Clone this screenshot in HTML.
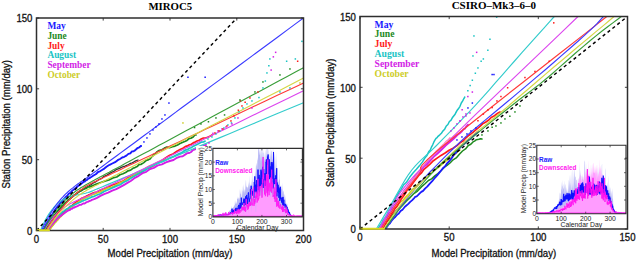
<!DOCTYPE html><html><head><meta charset="utf-8"><style>html,body{margin:0;padding:0;background:#fff;width:637px;height:261px;overflow:hidden}svg{display:block}</style></head><body>
<svg width="637" height="261" viewBox="0 0 637 261">
<rect width="637" height="261" fill="#fff"/>
<clipPath id="cL"><rect x="36.5" y="18" width="267.0" height="212.5"/></clipPath>
<g clip-path="url(#cL)">
<path d="M48.5 230.5 L49.6 229 L50.7 227.5 L51.8 226.1 L52.9 224.7 L53.9 223.3 L55 222 L56.1 220.9 L57.2 219.4 L58.3 218.2 L59.4 217 L60.5 215.6 L61.5 214.7 L62.6 213.6 L63.7 212.7 L64.8 211.2 L65.9 210.3 L67 209.2 L68.1 208.7 L69.2 207.6 L70.2 206.3 L71.3 206 L72.4 205.2 L73.5 204.1 L74.6 203.3 L75.7 202.3 L76.8 201.4 L77.9 201 L79 200 L80 199.4 L81.1 198.8 L82.2 198 L83.3 197.7 L84.4 197.1 L85.5 196.7 L86.6 196 L87.7 195.5 L88.7 194.9 L89.8 194.5 L90.9 193.9 L92 193.4 L94.1 192.7 L97 192 L100.4 190.1 L104.1 188.7 L108.1 187.2 L112.2 185 L116.2 183.7 L120 182.2 L123.7 180.7 L127.4 178.1 L131.1 176.5 L134.9 174.4 L138.7 173.3 L142.5 171.2 L146.2 168.4 L150 167.6 L153.8 165.5 L157.8 162.9 L161.8 160.6 L165.8 157.7 L169.7 155.3 L173.4 153.8 L176.9 151.2 L180 149.6 L182.8 148.2 L185.2 146.6 L187.4 145.9 L189.4 144.7 L191.3 144.2 L193.2 142.9 L195.1 142.1 L197 141 L199.1 140.3 L201.2 139.1 L203.4 138 L205.6 138 L207.6 137.3 L209.4 136.4 L210.9 135.7 L212 135" fill="none" stroke="#ff1a1a" stroke-width="1.7" stroke-linejoin="round" stroke-linecap="round" />
<path d="M49 230.5 L50.1 229.1 L51.1 227.7 L52.2 226.3 L53.3 225 L54.4 223.5 L55.5 222.5 L56.5 221.2 L57.6 220.2 L58.7 218.7 L59.8 217.5 L60.8 216.7 L61.9 215.5 L63 214.3 L64 213.5 L65.1 212.3 L66.2 211.6 L67.3 210.3 L68.3 209.4 L69.4 208.9 L70.5 207.7 L71.6 206.8 L72.7 206.3 L73.7 205.4 L74.8 204.4 L75.9 203.9 L77 203.2 L78 202.2 L79.1 201.8 L80.2 200.9 L81.2 200.3 L82.3 199.6 L83.4 199 L84.5 198.8 L85.5 198 L86.6 197.7 L87.7 196.9 L88.8 196.5 L89.8 196.1 L90.9 195.6 L92 194.8 L94.1 194.3 L97 193.1 L100.4 192 L104.1 189.8 L108.1 188.1 L112.2 186.9 L116.2 185 L120 182.8 L123.8 181.2 L127.7 178.7 L131.8 176.8 L135.8 173.7 L139.8 171.5 L143.5 170 L147 167.5 L150 165.8 L152.7 165 L155.2 163.7 L157.4 162.3 L159.4 162 L161.1 161.5 L162.7 160.5 L165 160.2 L165 160" fill="none" stroke="#cdcd28" stroke-width="1.6" stroke-linejoin="round" stroke-linecap="round" />
<path d="M45 230.5 L46.2 228.4 L47.4 226.4 L48.5 224.5 L49.7 222.7 L50.9 220.6 L52 219.1 L53.2 217.3 L54.4 215.9 L55.6 214 L56.8 212.8 L57.9 211.3 L59.1 209.9 L60.3 208.6 L61.5 207.1 L62.6 205.8 L63.8 204.7 L65 203.4 L66.2 202.3 L67.3 201.2 L68.5 200.3 L69.7 199.3 L70.8 198.3 L72 197.2 L73.2 196.4 L74.4 195.4 L75.5 194.5 L76.7 193.7 L77.9 192.8 L79.1 191.9 L80.2 191.3 L81.4 190.5 L82.6 189.8 L83.8 189.1 L84.9 188.3 L86.1 187.5 L87.3 186.9 L88.5 186.3 L89.7 185.4 L90.8 184.8 L92 183.9 L93.6 182.7 L95.8 181.8 L98.3 179.9 L101.2 178.7 L104.1 176.3 L107 175.1 L109.7 173.4 L112 172.2 L114 171.3 L115.7 169.9 L117.4 169.2 L118.9 168.7 L120.4 167.9 L121.9 167.2 L123.4 166.5 L125 166.2 L126.7 165.4 L128.6 164.5 L130.4 163.3 L132.3 162.9 L134.1 161.8 L135.7 160.9 L138 160 L138 160" fill="none" stroke="#333333" stroke-width="1.3" stroke-linejoin="round" stroke-linecap="round" />
<path d="M46.5 230.5 L47.6 228.8 L48.8 227.1 L49.9 225.5 L51 224 L52.2 222.5 L53.3 221.3 L54.5 220 L55.6 218.8 L56.7 217.3 L57.9 216.2 L59 215 L60.1 214 L61.3 213.3 L62.4 212.1 L63.6 211.4 L64.7 210.4 L65.8 209.6 L67 208.9 L68.1 208.3 L69.2 207.5 L70.4 206.6 L71.5 206 L72.7 205.4 L73.8 205.1 L74.9 204.5 L76.1 204 L77.2 203.5 L78.3 202.9 L79.5 202.5 L80.6 201.9 L81.8 201.2 L82.9 201 L84 200.3 L85.2 200 L86.3 199.5 L87.5 198.9 L88.6 198.4 L89.7 198 L90.9 197.4 L92 196.8 L94.1 196.3 L97 195 L100.4 193.8 L104.1 191.5 L108.1 189.8 L112.2 187.9 L116.2 186.1 L120 184.7 L123.7 182.2 L127.4 180.5 L131.1 178 L134.9 175.8 L138.7 173.7 L142.5 171.8 L146.2 169.5 L150 166.8 L153.8 165.1 L157.8 163 L161.9 161.8 L165.9 159.9 L169.8 158.1 L173.5 156.4 L176.9 154.7 L180 153.4 L182.7 152 L185.1 150.2 L187.3 149.7 L189.3 148.3 L191.1 147.7 L192.8 146.6 L194.4 145.7 L196 144.9 L197.5 144.2 L199 143.4 L201.5 142.1 L203.5 141.9 L205 141.3 L205 141" fill="none" stroke="#19c4c4" stroke-width="1.7" stroke-linejoin="round" stroke-linecap="round" />
<path d="M47.5 230.5 L48.6 228.9 L49.7 227.4 L50.8 226 L52 224.6 L53.1 223.3 L54.2 222.1 L55.3 220.9 L56.4 219.6 L57.5 218.4 L58.6 217.6 L59.7 216.5 L60.9 215.9 L62 214.9 L63.1 214.1 L64.2 213.2 L65.3 212.5 L66.4 211.6 L67.5 211 L68.6 210.2 L69.8 210 L70.9 208.9 L72 208.8 L73.1 207.8 L74.2 207.6 L75.3 206.9 L76.4 206.5 L77.5 206.2 L78.7 205.3 L79.8 204.9 L80.9 204.9 L82 204.2 L83.1 203.5 L84.2 203.5 L85.3 203.1 L86.4 202.2 L87.6 201.9 L88.7 201.3 L89.8 200.9 L90.9 200.6 L92 199.8 L94.1 199.2 L97 197.9 L100.4 195.9 L104.1 194.1 L108.1 192.7 L112.2 190.7 L116.2 189.2 L120 187.2 L123.7 185.1 L127.4 182.9 L131.1 180.7 L134.9 177.8 L138.7 175.8 L142.5 173.2 L146.2 171.8 L150 169 L153.8 167.9 L157.8 165.4 L161.9 164.4 L165.9 162.4 L169.8 161 L173.5 160 L176.9 157.8 L180 156.6 L182.7 156.2 L185.1 154.6 L187.3 153.1 L189.2 153 L191.1 152 L192.8 150.2 L194.4 149.7 L196 148.6 L197.6 148.1 L199.2 147.7 L200.6 146.7 L203.2 146.2 L205.3 144.8 L206 145" fill="none" stroke="#d21ee6" stroke-width="1.9" stroke-linejoin="round" stroke-linecap="round" />
<path d="M44.5 230.5 L45.7 228.5 L46.9 226.5 L48.1 224.5 L49.2 222.6 L50.4 220.8 L51.6 219 L52.8 217.4 L54 215.7 L55.2 214.3 L56.4 212.5 L57.6 211.2 L58.8 209.4 L59.9 208.2 L61.1 206.9 L62.3 205.4 L63.5 204.6 L64.7 203.1 L65.9 202.3 L67.1 201.3 L68.2 199.7 L69.4 199.1 L70.6 198.1 L71.8 197 L73 195.7 L74.2 195.1 L75.4 194.4 L76.6 193.3 L77.8 192.5 L78.9 191.8 L80.1 191.1 L81.3 190.8 L82.5 189.8 L83.7 189.3 L84.9 188.8 L86.1 188.5 L87.2 187.5 L88.4 186.8 L89.6 186.9 L90.8 186.4 L92 185.9 L94.2 184.9 L97.2 183.7 L100.8 182.5 L104.8 181.1 L108.9 180 L113 177.9 L116.7 177 L120 174.7 L122.9 173.8 L125.6 172.5 L128.1 170.8 L130.6 170.2 L132.9 168.3 L135 167.6 L137.1 166.6 L139 164.6 L140.8 164.5 L142.3 163.6 L143.8 162.6 L146.3 160.4 L148.7 159.6 L150 159 L151.2 157.5 L152.3 156.3 L153.4 155.3 L154.4 154.1 L155.6 153.6 L156.8 151.9 L158.3 150.9 L160 150.2 L162 149.8 L164.4 148.1 L166.9 147 L169.6 147.7 L172.4 146.8 L175 146.1 L177.6 144.9 L180 143.6 L182.3 142.5 L184.7 141.5 L187 140.4 L189.2 138.5 L191.3 138.1 L193.2 137 L194.8 135 L196 135" fill="none" stroke="#1e8a1e" stroke-width="1.7" stroke-linejoin="round" stroke-linecap="round" />
<path d="M43 230.5 L44.2 228.1 L45.5 225.8 L46.7 223.5 L47.9 221.5 L49.1 219.5 L50.4 217.1 L51.6 215.4 L52.8 213.5 L54 211.6 L55.2 209.6 L56.5 207.8 L57.7 206.4 L58.9 205 L60.1 203.2 L61.4 201.8 L62.6 200.3 L63.8 199.2 L65 197.9 L66.3 196.4 L67.5 195.5 L68.7 193.8 L70 193 L71.2 191.9 L72.4 190.5 L73.6 189.7 L74.8 188.6 L76.1 187.8 L77.3 186.5 L78.5 185.7 L79.8 184.9 L81 183.9 L82.2 182.9 L83.4 181.9 L84.7 181.5 L85.9 180.4 L87.1 179.8 L88.3 178.6 L89.5 178.1 L90.8 177.3 L92 176.5 L93.9 175.3 L95.8 174.2 L98.4 171.8 L100 171.3 L102 170 L104.3 168.6 L106.8 166.5 L109.6 164.8 L112.3 163.5 L115.1 162.2 L117.7 160.2 L120 159 L122.2 157.5 L124.3 156.8 L126.4 155.6 L128.4 153.9 L130.3 153.4 L132 151.4 L133.6 151.2 L135 150.4 L137.3 148.2 L138.9 147.6 L140.6 146.3 L141 146" fill="none" stroke="#1a1aff" stroke-width="1.9" stroke-linejoin="round" stroke-linecap="round" />
<path d="M40.5 230.5 L41.8 227.5 L43.1 224.7 L44.4 222 L45.6 219.6 L46.9 217.3 L48.2 215.1 L49.5 213.1 L50.8 211.3 L52.1 209.6 L53.4 208 L54.7 206.5 L56 205.2 L57.2 204 L58.5 202.8 L59.8 201.8 L61.1 200.9 L62.4 200.1 L63.7 199.3 L65 198.6 L66.2 198 L67.5 197.5 L68.8 197 L70.1 196.6 L71.4 196.2 L72.7 195.9 L74 195.5 L75.3 195.3 L76.5 195 L77.8 194.7 L79.1 194.5 L80.4 194.2 L81.7 194 L83 193.7 L84.3 193.5 L85.6 193.2 L86.8 192.8 L88.1 192.5 L89.4 192.1 L90.7 191.6 L92 191.1 L92.5 190.9 L92.9 190.7 L93.4 190.5 L94.1 190.2 L95 189.8 L96.3 189.3 L97.9 188.6 L100 187.8 L102.6 186.7 L105.7 185.4 L109.2 183.9 L113 182.3 L117.1 180.6 L121.3 178.9 L125.6 177 L130 175.2 L134.5 173.4 L139.1 171.4 L143.8 169.4 L148.8 167.4 L153.8 165.3 L159.1 163.1 L164.5 160.8 L170 158.5 L175.5 156.2 L181 153.9 L186.5 151.6 L192.3 149.2 L198.4 146.6 L204.9 143.9 L212.1 140.9 L220 137.6 L229.4 133.7 L240.5 129 L252.5 124 L264.9 118.8 L276.8 113.8 L287.7 109.3 L296.8 105.5 L303.5 102.7" fill="none" stroke="#33cccc" stroke-width="1.15" stroke-linejoin="round" stroke-linecap="round" />
<path d="M44 230.5 L45.2 228.5 L46.4 226.6 L47.6 224.8 L48.8 223.1 L50 221.4 L51.2 219.9 L52.4 218.4 L53.6 217 L54.8 215.7 L56 214.4 L57.2 213.2 L58.4 212.1 L59.6 211 L60.8 210 L62 209.1 L63.2 208.2 L64.4 207.3 L65.6 206.5 L66.8 205.7 L68 205 L69.2 204.3 L70.4 203.6 L71.6 203 L72.8 202.4 L74 201.8 L75.2 201.3 L76.4 200.7 L77.6 200.2 L78.8 199.7 L80 199.2 L81.2 198.7 L82.4 198.2 L83.6 197.7 L84.8 197.2 L86 196.7 L87.2 196.2 L88.4 195.7 L89.6 195.1 L90.8 194.6 L92 194 L92.5 193.8 L92.9 193.5 L93.4 193.3 L94.1 193 L95 192.5 L96.3 191.9 L97.9 191.1 L100 190.1 L102.6 188.8 L105.7 187.3 L109.2 185.6 L113 183.7 L117.1 181.8 L121.3 179.7 L125.6 177.6 L130 175.4 L134.5 173.3 L139.1 171 L143.8 168.7 L148.8 166.3 L153.8 163.8 L159.1 161.2 L164.5 158.6 L170 155.9 L175.5 153.2 L181 150.5 L186.5 147.8 L192.3 145 L198.4 142 L204.9 138.8 L212.1 135.3 L220 131.5 L229.4 126.9 L240.5 121.4 L252.5 115.6 L264.9 109.5 L276.8 103.7 L287.7 98.4 L296.8 93.9 L303.5 90.7" fill="none" stroke="#dc46ee" stroke-width="1.15" stroke-linejoin="round" stroke-linecap="round" />
<path d="M46 230.5 L47.1 228.7 L48.3 226.9 L49.5 225.1 L50.6 223.4 L51.8 221.7 L52.9 220.1 L54 218.4 L55.2 216.8 L56.4 215.3 L57.5 213.7 L58.6 212.3 L59.8 210.8 L61 209.4 L62.1 208 L63.2 206.6 L64.4 205.3 L65.5 204 L66.7 202.7 L67.8 201.5 L69 200.3 L70.2 199.1 L71.3 198 L72.5 196.9 L73.6 195.8 L74.8 194.7 L75.9 193.7 L77 192.8 L78.2 191.8 L79.3 190.9 L80.5 190 L81.7 189.2 L82.8 188.4 L83.9 187.6 L85.1 186.8 L86.2 186.1 L87.4 185.4 L88.6 184.8 L89.7 184.2 L90.8 183.6 L92 183 L92.5 182.8 L92.9 182.6 L93.4 182.3 L94.1 182 L95 181.6 L96.3 181 L97.9 180.2 L100 179.2 L102.6 178 L105.7 176.5 L109.2 174.9 L113 173.1 L117.1 171.2 L121.3 169.2 L125.6 167.1 L130 165 L134.5 162.9 L139.1 160.7 L143.8 158.5 L148.8 156.2 L153.8 153.8 L159.1 151.3 L164.5 148.7 L170 146.1 L175.5 143.5 L181 140.9 L186.5 138.3 L192.3 135.6 L198.4 132.7 L204.9 129.6 L212.1 126.2 L220 122.5 L229.4 118 L240.5 112.8 L252.5 107.1 L264.9 101.3 L276.8 95.6 L287.7 90.5 L296.8 86.2 L303.5 83" fill="none" stroke="#ff3a3a" stroke-width="1.15" stroke-linejoin="round" stroke-linecap="round" />
<path d="M47 230.5 L48.1 228.7 L49.2 227 L50.4 225.3 L51.5 223.7 L52.6 222.1 L53.8 220.5 L54.9 219 L56 217.5 L57.1 216.1 L58.2 214.7 L59.4 213.4 L60.5 212.1 L61.6 210.8 L62.8 209.6 L63.9 208.4 L65 207.2 L66.1 206.1 L67.2 205 L68.4 203.9 L69.5 202.9 L70.6 201.9 L71.8 200.9 L72.9 199.9 L74 199 L75.1 198.1 L76.2 197.2 L77.4 196.4 L78.5 195.6 L79.6 194.8 L80.8 194 L81.9 193.3 L83 192.6 L84.1 191.8 L85.2 191.2 L86.4 190.5 L87.5 189.8 L88.6 189.2 L89.8 188.6 L90.9 188 L92 187.4 L92.5 187.2 L92.9 186.9 L93.4 186.7 L94.1 186.3 L95 185.8 L96.3 185.2 L97.9 184.4 L100 183.3 L102.6 181.9 L105.7 180.3 L109.2 178.5 L113 176.5 L117.1 174.5 L121.3 172.3 L125.6 170 L130 167.8 L134.5 165.5 L139.1 163.1 L143.8 160.6 L148.8 158.1 L153.8 155.4 L159.1 152.7 L164.5 150 L170 147.1 L175.5 144.2 L181 141.4 L186.5 138.5 L192.3 135.6 L198.4 132.4 L204.9 129 L212.1 125.3 L220 121.3 L229.4 116.4 L240.5 110.7 L252.5 104.4 L264.9 98.1 L276.8 91.9 L287.7 86.3 L296.8 81.5 L303.5 78.1" fill="none" stroke="#d6d646" stroke-width="1.15" stroke-linejoin="round" stroke-linecap="round" />
<path d="M43.5 230.5 L44.7 228.2 L45.9 226 L47.1 223.9 L48.4 221.9 L49.6 219.9 L50.8 218 L52 216.2 L53.2 214.4 L54.4 212.7 L55.6 211.1 L56.8 209.5 L58 208 L59.3 206.5 L60.5 205.1 L61.7 203.8 L62.9 202.5 L64.1 201.2 L65.3 200 L66.5 198.8 L67.8 197.7 L69 196.6 L70.2 195.6 L71.4 194.6 L72.6 193.6 L73.8 192.7 L75 191.8 L76.2 190.9 L77.4 190 L78.7 189.2 L79.9 188.4 L81.1 187.6 L82.3 186.9 L83.5 186.2 L84.7 185.4 L85.9 184.7 L87.2 184.1 L88.4 183.4 L89.6 182.7 L90.8 182.1 L92 181.4 L92.5 181.1 L92.9 180.9 L93.4 180.6 L94.1 180.3 L95 179.8 L96.3 179.1 L97.9 178.2 L100 177.1 L102.6 175.7 L105.7 174 L109.2 172.2 L113 170.1 L117.1 167.9 L121.3 165.7 L125.6 163.3 L130 161 L134.5 158.6 L139.1 156.1 L143.8 153.5 L148.8 150.9 L153.8 148.2 L159.1 145.3 L164.5 142.5 L170 139.5 L175.5 136.5 L181 133.5 L186.5 130.6 L192.3 127.5 L198.4 124.2 L204.9 120.7 L212.1 116.8 L220 112.6 L229.4 107.5 L240.5 101.6 L252.5 95.1 L264.9 88.5 L276.8 82 L287.7 76.2 L296.8 71.3 L303.5 67.7" fill="none" stroke="#3a9e3a" stroke-width="1.15" stroke-linejoin="round" stroke-linecap="round" />
<path d="M41.5 230.5 L42.8 227.8 L44 225.2 L45.3 222.7 L46.5 220.3 L47.8 217.9 L49.1 215.7 L50.3 213.6 L51.6 211.6 L52.9 209.7 L54.1 207.8 L55.4 206 L56.6 204.3 L57.9 202.7 L59.2 201.1 L60.4 199.6 L61.7 198.2 L63 196.8 L64.2 195.5 L65.5 194.2 L66.8 193 L68 191.8 L69.3 190.7 L70.5 189.6 L71.8 188.6 L73.1 187.6 L74.3 186.6 L75.6 185.6 L76.8 184.7 L78.1 183.8 L79.4 182.9 L80.6 182 L81.9 181.1 L83.2 180.2 L84.4 179.3 L85.7 178.5 L87 177.6 L88.2 176.7 L89.5 175.8 L90.7 174.9 L92 174 L92.5 173.7 L92.9 173.3 L93.4 172.9 L94.1 172.4 L95 171.8 L96.3 170.9 L97.9 169.7 L100 168.1 L102.6 166.2 L105.7 163.9 L109.2 161.3 L113 158.5 L117.1 155.5 L121.3 152.4 L125.6 149.2 L130 146 L134.5 142.7 L139.1 139.3 L143.8 135.8 L148.8 132.1 L153.8 128.4 L159.1 124.5 L164.5 120.6 L170 116.5 L175.5 112.4 L181 108.3 L186.5 104.3 L192.3 100 L198.4 95.6 L204.9 90.7 L212.1 85.4 L220 79.6 L229.4 72.7 L240.5 64.5 L252.5 55.6 L264.9 46.5 L276.8 37.7 L287.7 29.6 L296.8 22.9 L303.5 18" fill="none" stroke="#3c3cff" stroke-width="1.15" stroke-linejoin="round" stroke-linecap="round" />
<path d="M36.5 230.5 L236.8 18" fill="none" stroke="#000" stroke-width="1.45" stroke-dasharray="3.2 3.0" stroke-linecap="butt"/>
<rect x="140.2" y="145.2" width="1.5" height="1.5" fill="#1a1aff"/>
<rect x="143.2" y="141.2" width="1.5" height="1.5" fill="#1a1aff"/>
<rect x="146.2" y="137.2" width="1.5" height="1.5" fill="#1a1aff"/>
<rect x="149.2" y="133.2" width="1.5" height="1.5" fill="#1a1aff"/>
<rect x="152.2" y="129.2" width="1.5" height="1.5" fill="#1a1aff"/>
<rect x="155.2" y="126.2" width="1.5" height="1.5" fill="#1a1aff"/>
<rect x="158.2" y="123.2" width="1.5" height="1.5" fill="#1a1aff"/>
<rect x="161.2" y="118.2" width="1.5" height="1.5" fill="#1a1aff"/>
<rect x="164.2" y="114.2" width="1.5" height="1.5" fill="#1a1aff"/>
<rect x="168.2" y="102.3" width="1.5" height="1.5" fill="#1a1aff"/>
<rect x="187.2" y="76.5" width="1.5" height="1.5" fill="#1a1aff"/>
<rect x="204.4" y="76.5" width="1.5" height="1.5" fill="#1a1aff"/>
<rect x="207.2" y="138.2" width="1.5" height="1.5" fill="#19c4c4"/>
<rect x="211.2" y="136.2" width="1.5" height="1.5" fill="#19c4c4"/>
<rect x="215.2" y="133.2" width="1.5" height="1.5" fill="#19c4c4"/>
<rect x="219.2" y="130.2" width="1.5" height="1.5" fill="#19c4c4"/>
<rect x="223.2" y="127.2" width="1.5" height="1.5" fill="#19c4c4"/>
<rect x="227.2" y="124.2" width="1.5" height="1.5" fill="#19c4c4"/>
<rect x="230.7" y="122.2" width="1.5" height="1.5" fill="#19c4c4"/>
<rect x="234.2" y="117.2" width="1.5" height="1.5" fill="#19c4c4"/>
<rect x="238.2" y="111.2" width="1.5" height="1.5" fill="#19c4c4"/>
<rect x="242.2" y="107.2" width="1.5" height="1.5" fill="#19c4c4"/>
<rect x="246.2" y="103.2" width="1.5" height="1.5" fill="#19c4c4"/>
<rect x="251.2" y="100.2" width="1.5" height="1.5" fill="#19c4c4"/>
<rect x="258.2" y="96.8" width="1.5" height="1.5" fill="#19c4c4"/>
<rect x="262.2" y="87.2" width="1.5" height="1.5" fill="#19c4c4"/>
<rect x="264.6" y="80.3" width="1.5" height="1.5" fill="#19c4c4"/>
<rect x="266.2" y="72.2" width="1.5" height="1.5" fill="#19c4c4"/>
<rect x="268.1" y="65" width="1.5" height="1.5" fill="#19c4c4"/>
<rect x="269.1" y="58.2" width="1.5" height="1.5" fill="#19c4c4"/>
<rect x="285.9" y="60.5" width="1.5" height="1.5" fill="#19c4c4"/>
<rect x="301.2" y="40.6" width="1.5" height="1.5" fill="#19c4c4"/>
<rect x="294.6" y="58.2" width="1.5" height="1.5" fill="#19c4c4"/>
<rect x="279.2" y="91.2" width="1.5" height="1.5" fill="#19c4c4"/>
<rect x="289.2" y="87.2" width="1.5" height="1.5" fill="#19c4c4"/>
<rect x="208.2" y="142.2" width="1.5" height="1.5" fill="#d21ee6"/>
<rect x="212.2" y="132.6" width="1.5" height="1.5" fill="#d21ee6"/>
<rect x="217.2" y="130.2" width="1.5" height="1.5" fill="#d21ee6"/>
<rect x="221.2" y="128.2" width="1.5" height="1.5" fill="#d21ee6"/>
<rect x="225.2" y="126.2" width="1.5" height="1.5" fill="#d21ee6"/>
<rect x="231.2" y="123.2" width="1.5" height="1.5" fill="#d21ee6"/>
<rect x="237.2" y="117.2" width="1.5" height="1.5" fill="#d21ee6"/>
<rect x="251.2" y="107.2" width="1.5" height="1.5" fill="#d21ee6"/>
<rect x="272.6" y="56.1" width="1.5" height="1.5" fill="#d21ee6"/>
<rect x="274.9" y="51.6" width="1.5" height="1.5" fill="#d21ee6"/>
<rect x="270.4" y="69.3" width="1.5" height="1.5" fill="#d21ee6"/>
<rect x="214.2" y="132.2" width="1.5" height="1.5" fill="#ff1a1a"/>
<rect x="218.2" y="130.2" width="1.5" height="1.5" fill="#ff1a1a"/>
<rect x="222.2" y="128.2" width="1.5" height="1.5" fill="#ff1a1a"/>
<rect x="226.2" y="125.2" width="1.5" height="1.5" fill="#ff1a1a"/>
<rect x="230.2" y="120.2" width="1.5" height="1.5" fill="#ff1a1a"/>
<rect x="233.2" y="115.2" width="1.5" height="1.5" fill="#ff1a1a"/>
<rect x="237.6" y="109.5" width="1.5" height="1.5" fill="#ff1a1a"/>
<rect x="241.2" y="105.2" width="1.5" height="1.5" fill="#ff1a1a"/>
<rect x="244.4" y="101.5" width="1.5" height="1.5" fill="#ff1a1a"/>
<rect x="239.6" y="100.2" width="1.5" height="1.5" fill="#ff1a1a"/>
<rect x="296.9" y="60.5" width="1.5" height="1.5" fill="#ff1a1a"/>
<rect x="249.2" y="97.2" width="1.5" height="1.5" fill="#ff1a1a"/>
<rect x="257.2" y="91.2" width="1.5" height="1.5" fill="#ff1a1a"/>
<rect x="193.8" y="126.8" width="1.5" height="1.5" fill="#1e8a1e"/>
<rect x="200.2" y="123.2" width="1.5" height="1.5" fill="#1e8a1e"/>
<rect x="207.7" y="121" width="1.5" height="1.5" fill="#1e8a1e"/>
<rect x="215.2" y="117.2" width="1.5" height="1.5" fill="#1e8a1e"/>
<rect x="223.8" y="114.2" width="1.5" height="1.5" fill="#1e8a1e"/>
<rect x="239.2" y="99.2" width="1.5" height="1.5" fill="#1e8a1e"/>
<rect x="254.2" y="91.2" width="1.5" height="1.5" fill="#1e8a1e"/>
<rect x="262.2" y="81.2" width="1.5" height="1.5" fill="#1e8a1e"/>
<rect x="279.2" y="74.2" width="1.5" height="1.5" fill="#1e8a1e"/>
<rect x="289.2" y="68.2" width="1.5" height="1.5" fill="#1e8a1e"/>
<rect x="182.2" y="122.2" width="1.5" height="1.5" fill="#cdcd28"/>
<rect x="299.2" y="82.2" width="1.5" height="1.5" fill="#cdcd28"/>
</g>
<rect x="196" y="146" width="107.5" height="84.5" fill="#fff"/>
<clipPath id="ic100"><rect x="212.9" y="148.4" width="89.49999999999997" height="68.5"/></clipPath>
<g clip-path="url(#ic100)">
<path d="M212.9 217.9 L212.9 215.1 L213.1 215.5 L213.4 215.8 L213.6 215.4 L213.9 215.6 L214.1 215.5 L214.4 214.9 L214.6 215.3 L214.9 215.1 L215.1 215.2 L215.4 215.4 L215.6 215 L215.8 215.5 L216.1 215.1 L216.3 215.3 L216.6 215.2 L216.8 215.3 L217.1 215 L217.3 214.6 L217.6 214.6 L217.8 215.2 L218 214.6 L218.3 214.5 L218.5 214.7 L218.8 214.3 L219 214.7 L219.3 213.5 L219.5 214.7 L219.8 214.3 L220 214.5 L220.3 214.8 L220.5 213.3 L220.7 214 L221 214.3 L221.2 214.5 L221.5 214.6 L221.7 213.7 L222 214.4 L222.2 212.8 L222.5 214 L222.7 214 L223 214.2 L223.2 214.1 L223.4 213.9 L223.7 213.6 L223.9 212.3 L224.2 214.1 L224.4 213.4 L224.7 213.3 L224.9 213.3 L225.2 214.1 L225.4 213.2 L225.7 213.1 L225.9 213.5 L226.1 212.3 L226.4 213.9 L226.6 213 L226.9 213.1 L227.1 213.8 L227.4 213 L227.6 213.3 L227.9 213.5 L228.1 212.5 L228.3 212.3 L228.6 212.2 L228.8 211.3 L229.1 211.8 L229.3 210 L229.6 211.2 L229.8 210.6 L230.1 211.6 L230.3 210.2 L230.6 209.8 L230.8 209.4 L231 210.5 L231.3 209.4 L231.5 208.2 L231.8 205.5 L232 209.8 L232.3 208.4 L232.5 208 L232.8 207.8 L233 207.8 L233.3 207.7 L233.5 207 L233.7 206.9 L234 205.8 L234.2 204.8 L234.5 206.1 L234.7 205.7 L235 200.2 L235.2 204 L235.5 203.4 L235.7 200.2 L235.9 203.7 L236.2 203.2 L236.4 201.2 L236.7 204.4 L236.9 202.6 L237.2 196 L237.4 198.4 L237.7 199 L237.9 198.4 L238.2 198.5 L238.4 200.4 L238.6 196.7 L238.9 198.4 L239.1 197.8 L239.4 199.3 L239.6 200.5 L239.9 188.4 L240.1 193.3 L240.4 194.6 L240.6 193.9 L240.9 189 L241.1 198.1 L241.3 197.8 L241.6 197.4 L241.8 193.2 L242.1 185.5 L242.3 192.1 L242.6 189.8 L242.8 196.2 L243.1 190.5 L243.3 187.7 L243.6 183.9 L243.8 192.8 L244 190.5 L244.3 194.1 L244.5 190.1 L244.8 188.9 L245 192.2 L245.3 188.7 L245.5 185.7 L245.8 181.2 L246 179.2 L246.2 187.1 L246.5 187.4 L246.7 185.2 L247 187.1 L247.2 187.3 L247.5 187.4 L247.7 189.2 L248 186.3 L248.2 181.1 L248.5 187.5 L248.7 183.6 L248.9 188.2 L249.2 174.7 L249.4 184.4 L249.7 188.2 L249.9 181.9 L250.2 185 L250.4 185.4 L250.7 189.1 L250.9 184.5 L251.2 185.8 L251.4 180.3 L251.6 186 L251.9 180.2 L252.1 166.5 L252.4 185 L252.6 187.5 L252.9 177.9 L253.1 186 L253.4 186.2 L253.6 185.3 L253.8 176.9 L254.1 183 L254.3 178.5 L254.6 177.1 L254.8 179.6 L255.1 163.8 L255.3 178.5 L255.6 169.4 L255.8 176.9 L256.1 168.6 L256.3 162.8 L256.5 166.2 L256.8 162.3 L257 172.8 L257.3 162.7 L257.5 156.9 L257.8 161 L258 159 L258.3 145.7 L258.5 150.4 L258.8 145.7 L259 147.7 L259.2 151 L259.5 154.2 L259.7 155.6 L260 148.1 L260.2 152.7 L260.5 163.7 L260.7 148.2 L261 161.1 L261.2 156.3 L261.5 148 L261.7 145.7 L261.9 162.4 L262.2 156.4 L262.4 156.5 L262.7 145.7 L262.9 152.8 L263.2 153 L263.4 150 L263.7 158.5 L263.9 163 L264.1 163.8 L264.4 150.9 L264.6 162.1 L264.9 157.3 L265.1 148.8 L265.4 154.9 L265.6 159.4 L265.9 164.1 L266.1 159.3 L266.4 145.7 L266.6 145.7 L266.8 155.2 L267.1 157.7 L267.3 158.2 L267.6 147 L267.8 148.1 L268.1 150.4 L268.3 158.4 L268.6 158.8 L268.8 145.7 L269.1 163.5 L269.3 154.7 L269.5 165.1 L269.8 154 L270 153.2 L270.3 158 L270.5 145.7 L270.8 161.6 L271 160.8 L271.3 148.8 L271.5 156.9 L271.7 150.4 L272 150.9 L272.2 162.8 L272.5 158.9 L272.7 160.1 L273 145.7 L273.2 151.8 L273.5 151.1 L273.7 162.3 L274 158.6 L274.2 151 L274.4 159.9 L274.7 171.2 L274.9 153.1 L275.2 158.8 L275.4 166.3 L275.7 173.7 L275.9 170.6 L276.2 164.8 L276.4 151.3 L276.7 170.8 L276.9 179.2 L277.1 166.8 L277.4 179.7 L277.6 179.5 L277.9 182.9 L278.1 181.8 L278.4 179 L278.6 185.9 L278.9 182 L279.1 168.7 L279.4 179.4 L279.6 180 L279.8 178.9 L280.1 185.2 L280.3 186.9 L280.6 188.9 L280.8 186.1 L281.1 189.4 L281.3 188 L281.6 184.4 L281.8 189 L282 189.8 L282.3 182.3 L282.5 193.8 L282.8 188.4 L283 195.6 L283.3 190.7 L283.5 192.1 L283.8 190.3 L284 195.4 L284.3 193.6 L284.5 196.7 L284.7 199.1 L285 199.1 L285.2 195 L285.5 201.5 L285.7 198.6 L286 203.4 L286.2 202.6 L286.5 205 L286.7 205.7 L287 203.7 L287.2 203.7 L287.4 206 L287.7 205.9 L287.9 207 L288.2 208.2 L288.4 209 L288.7 208.8 L288.9 209.8 L289.2 211.3 L289.4 211.5 L289.6 211.4 L289.9 212.2 L290.1 212.2 L290.4 213.3 L290.6 214.3 L290.9 214.6 L291.1 214.4 L291.4 214.8 L291.6 215.4 L291.9 215.6 L292.1 215.8 L292.3 216 L292.6 216.4 L292.8 216.3 L293.1 216.3 L293.3 216.4 L293.6 216.3 L293.8 216.4 L294.1 216.5 L294.3 216.4 L294.6 216.4 L294.8 216.3 L295 216.4 L295.3 216.4 L295.5 216.2 L295.8 216.2 L296 216.4 L296.3 216.3 L296.5 216.3 L296.8 216.3 L297 216.4 L297.3 216.4 L297.5 216.4 L297.7 216.3 L298 216.5 L298.2 216.4 L298.5 216.3 L298.7 216.5 L299 216.4 L299.2 216.4 L299.5 216.3 L299.7 216.5 L299.9 216.4 L300.2 216.5 L300.4 216.5 L300.7 216.3 L300.9 216.5 L301.2 216.5 L301.4 216.2 L301.7 216.3 L301.9 216.3 L302.2 216.3 L302.4 216.3 L302.4 217.9 Z" fill="#b8b8f6"/>
<path d="M212.9 216.3 L213.1 216.4 L213.4 216.3 L213.6 216.2 L213.9 216 L214.1 216.3 L214.4 216.2 L214.6 216.1 L214.9 216.3 L215.1 216 L215.4 216.2 L215.6 215.9 L215.8 216 L216.1 216 L216.3 215.8 L216.6 215.8 L216.8 216 L217.1 215.8 L217.3 215.9 L217.6 216.1 L217.8 215.8 L218 215.5 L218.3 215.8 L218.5 215.7 L218.8 216 L219 215.5 L219.3 215.3 L219.5 214.8 L219.8 215.4 L220 215.2 L220.3 215.6 L220.5 215.2 L220.7 214.5 L221 215 L221.2 215.6 L221.5 215.1 L221.7 215.5 L222 215.1 L222.2 215.7 L222.5 215.4 L222.7 215.2 L223 214.9 L223.2 215.1 L223.4 215.7 L223.7 214.7 L223.9 214.8 L224.2 214.9 L224.4 214.8 L224.7 214.8 L224.9 214.6 L225.2 215.1 L225.4 215.4 L225.7 214.8 L225.9 214.9 L226.1 214.5 L226.4 214.6 L226.6 215.2 L226.9 214.3 L227.1 215.1 L227.4 214.3 L227.6 214.8 L227.9 215 L228.1 214 L228.3 214 L228.6 214.6 L228.8 214.7 L229.1 214.3 L229.3 213.9 L229.6 214 L229.8 213.6 L230.1 214.4 L230.3 213.6 L230.6 212.4 L230.8 212.9 L231 213.7 L231.3 212.8 L231.5 212.7 L231.8 212.5 L232 208.7 L232.3 212.6 L232.5 212.9 L232.8 211.1 L233 212.7 L233.3 210.2 L233.5 212.3 L233.7 210 L234 209.8 L234.2 211.7 L234.5 210.7 L234.7 209 L235 209.9 L235.2 211.1 L235.5 208.4 L235.7 209.4 L235.9 211.1 L236.2 207.8 L236.4 209.1 L236.7 210.7 L236.9 211.2 L237.2 210.9 L237.4 209.9 L237.7 208.4 L237.9 209.9 L238.2 206.5 L238.4 207.2 L238.6 204.9 L238.9 209.9 L239.1 209.9 L239.4 209.6 L239.6 205.3 L239.9 206 L240.1 202.8 L240.4 208.4 L240.6 203.2 L240.9 203.2 L241.1 208 L241.3 197.7 L241.6 202.9 L241.8 203.6 L242.1 204.6 L242.3 203.6 L242.6 204.6 L242.8 203.2 L243.1 202.3 L243.3 203.3 L243.6 200 L243.8 200.1 L244 198.5 L244.3 206 L244.5 199 L244.8 201.5 L245 203.1 L245.3 204.5 L245.5 196.6 L245.8 204.8 L246 196.5 L246.2 199.3 L246.5 197.4 L246.7 194.9 L247 204 L247.2 197.6 L247.5 200.3 L247.7 203.8 L248 200.4 L248.2 192.8 L248.5 192.4 L248.7 195.7 L248.9 198.8 L249.2 198.6 L249.4 202.1 L249.7 198.8 L249.9 199 L250.2 198.5 L250.4 189 L250.7 189.3 L250.9 194.4 L251.2 185.8 L251.4 192 L251.6 188.7 L251.9 192 L252.1 191.3 L252.4 194.4 L252.6 193.4 L252.9 191.3 L253.1 196 L253.4 189.1 L253.6 189.1 L253.8 198 L254.1 191.2 L254.3 182 L254.6 191 L254.8 176.4 L255.1 191.9 L255.3 188.6 L255.6 184.7 L255.8 188.7 L256.1 189.7 L256.3 192.7 L256.5 180.2 L256.8 193.8 L257 185.6 L257.3 186.8 L257.5 184.7 L257.8 186.9 L258 169.6 L258.3 190.2 L258.5 176.9 L258.8 181.3 L259 188.6 L259.2 174.9 L259.5 192.1 L259.7 186.1 L260 182.1 L260.2 177.9 L260.5 185.8 L260.7 178.8 L261 169.7 L261.2 181 L261.5 186.3 L261.7 171.6 L261.9 175.9 L262.2 176.8 L262.4 168.9 L262.7 166.8 L262.9 186.4 L263.2 187.9 L263.4 178.4 L263.7 169 L263.9 172.7 L264.1 172.9 L264.4 173.4 L264.6 181 L264.9 186.1 L265.1 180.8 L265.4 173.2 L265.6 185.9 L265.9 162.1 L266.1 162.5 L266.4 159.4 L266.6 174 L266.8 166.4 L267.1 160.8 L267.3 164.8 L267.6 156.6 L267.8 161.8 L268.1 154.5 L268.3 162 L268.6 174.4 L268.8 168.2 L269.1 164.2 L269.3 159.4 L269.5 179.1 L269.8 169.1 L270 176.7 L270.3 166.5 L270.5 178.2 L270.8 170.2 L271 167.5 L271.3 162.2 L271.5 183.6 L271.7 162.5 L272 171 L272.2 164.3 L272.5 178.6 L272.7 166.3 L273 162.2 L273.2 188.4 L273.5 152 L273.7 171.9 L274 177.2 L274.2 183.4 L274.4 184.1 L274.7 182.5 L274.9 178.5 L275.2 178.2 L275.4 184 L275.7 175.4 L275.9 177.4 L276.2 180.3 L276.4 186.1 L276.7 168.2 L276.9 196.4 L277.1 182.5 L277.4 185 L277.6 192 L277.9 187.6 L278.1 184.8 L278.4 192.8 L278.6 186.8 L278.9 197.8 L279.1 188.4 L279.4 188.5 L279.6 194.8 L279.8 200.9 L280.1 197.6 L280.3 186.8 L280.6 199.2 L280.8 197.2 L281.1 198.8 L281.3 197.9 L281.6 202 L281.8 201.7 L282 203.1 L282.3 200.8 L282.5 197.7 L282.8 204.9 L283 196.9 L283.3 201.5 L283.5 205.9 L283.8 199.9 L284 205.8 L284.3 204.7 L284.5 204.1 L284.7 203.7 L285 204.7 L285.2 207.6 L285.5 204.2 L285.7 204.2 L286 206.2 L286.2 207.4 L286.5 205.8 L286.7 208.3 L287 207.1 L287.2 207.8 L287.4 210.9 L287.7 211.9 L287.9 209.4 L288.2 212.2 L288.4 210.6 L288.7 212.9 L288.9 212.8 L289.2 213 L289.4 212 L289.6 214.3 L289.9 214.3 L290.1 213.9 L290.4 214.8 L290.6 214.7 L290.9 215.5 L291.1 215.8 L291.4 215.9 L291.6 215.9 L291.9 216 L292.1 216.2 L292.3 216.5 L292.6 216.6 L292.8 216.6 L293.1 216.7 L293.3 216.6 L293.6 216.7 L293.8 216.7 L294.1 216.6 L294.3 216.7 L294.6 216.7 L294.8 216.7 L295 216.7 L295.3 216.7 L295.5 216.7 L295.8 216.7 L296 216.8 L296.3 216.8 L296.5 216.7 L296.8 216.7 L297 216.7 L297.3 216.8 L297.5 216.8 L297.7 216.8 L298 216.8 L298.2 216.7 L298.5 216.8 L298.7 216.8 L299 216.8 L299.2 216.8 L299.5 216.8 L299.7 216.8 L299.9 216.8 L300.2 216.9 L300.4 216.9 L300.7 216.9 L300.9 216.9 L301.2 216.9 L301.4 216.9 L301.7 216.9 L301.9 216.9 L302.2 216.9 L302.4 216.9" fill="none" stroke="#1414ff" stroke-width="1.0" stroke-linejoin="miter" stroke-miterlimit="2"/>
<path d="M212.9 217.9 L212.9 216.1 L213.1 216.1 L213.4 216.7 L213.6 216.2 L213.9 216.1 L214.1 216.1 L214.4 215.9 L214.6 216.6 L214.9 216.1 L215.1 216.2 L215.4 216.6 L215.6 216.6 L215.8 216.1 L216.1 216 L216.3 215.8 L216.6 216 L216.8 216 L217.1 215.9 L217.3 215.8 L217.6 216 L217.8 215.7 L218 215.7 L218.3 215.9 L218.5 216 L218.8 215.9 L219 216 L219.3 215.8 L219.5 216 L219.8 215.6 L220 215.8 L220.3 215.8 L220.5 216.6 L220.7 215.6 L221 215.9 L221.2 215.7 L221.5 215.7 L221.7 215.7 L222 215.9 L222.2 215.6 L222.5 215.7 L222.7 215.4 L223 215.5 L223.2 215.6 L223.4 215.7 L223.7 215.8 L223.9 215.4 L224.2 215.6 L224.4 215.6 L224.7 215.5 L224.9 215.6 L225.2 215.4 L225.4 215.5 L225.7 215.7 L225.9 215.4 L226.1 215.3 L226.4 215.6 L226.6 215.7 L226.9 215.6 L227.1 216.4 L227.4 215.4 L227.6 215.5 L227.9 215.1 L228.1 215.4 L228.3 215.3 L228.6 215.4 L228.8 216.3 L229.1 214.7 L229.3 214.6 L229.6 214.6 L229.8 215.1 L230.1 214.6 L230.3 214.4 L230.6 214.2 L230.8 214.2 L231 216.3 L231.3 214.5 L231.5 214.4 L231.8 214.5 L232 214.4 L232.3 214.6 L232.5 214.5 L232.8 214.6 L233 213.6 L233.3 213.3 L233.5 213.6 L233.7 213.2 L234 213.9 L234.2 213.7 L234.5 213.6 L234.7 214 L235 212.8 L235.2 213.3 L235.5 212.6 L235.7 213.4 L235.9 213.3 L236.2 212.5 L236.4 212.6 L236.7 213 L236.9 212.9 L237.2 212 L237.4 212.4 L237.7 211.6 L237.9 212.1 L238.2 211.8 L238.4 211.6 L238.6 211.5 L238.9 212.2 L239.1 211 L239.4 210.9 L239.6 211.8 L239.9 211.3 L240.1 211.7 L240.4 211.9 L240.6 210.7 L240.9 211 L241.1 211.1 L241.3 211.5 L241.6 210 L241.8 211 L242.1 209.6 L242.3 211.5 L242.6 209 L242.8 211.3 L243.1 210.6 L243.3 208.7 L243.6 208.7 L243.8 214.4 L244 210.4 L244.3 208 L244.5 210.1 L244.8 210.2 L245 207.7 L245.3 208.7 L245.5 207.6 L245.8 209.5 L246 207.9 L246.2 208 L246.5 206.3 L246.7 214 L247 208.9 L247.2 206.2 L247.5 206 L247.7 205.9 L248 206 L248.2 207.2 L248.5 207.9 L248.7 206.1 L248.9 214 L249.2 206.2 L249.4 205.4 L249.7 206.7 L249.9 205.9 L250.2 205.5 L250.4 205.8 L250.7 205.1 L250.9 205.6 L251.2 202.6 L251.4 206 L251.6 205.5 L251.9 212.8 L252.1 204.1 L252.4 203.6 L252.6 200.7 L252.9 205.3 L253.1 201.8 L253.4 202.4 L253.6 204.3 L253.8 199.5 L254.1 204.3 L254.3 198.9 L254.6 203.8 L254.8 201.6 L255.1 202.4 L255.3 203 L255.6 196.9 L255.8 211.9 L256.1 212.3 L256.3 196.2 L256.5 199.7 L256.8 199.4 L257 199.7 L257.3 197 L257.5 197.4 L257.8 193.9 L258 199.7 L258.3 195.5 L258.5 194.5 L258.8 196.6 L259 194.9 L259.2 199 L259.5 193.7 L259.7 197.5 L260 191.7 L260.2 195.1 L260.5 195.6 L260.7 194.3 L261 196.1 L261.2 197.2 L261.5 192.2 L261.7 195.9 L261.9 198.1 L262.2 197.2 L262.4 192 L262.7 191.2 L262.9 191.7 L263.2 191.1 L263.4 190.9 L263.7 195.7 L263.9 188.8 L264.1 196.7 L264.4 190.9 L264.6 191 L264.9 193.7 L265.1 191.7 L265.4 194.4 L265.6 190.3 L265.9 190.2 L266.1 191 L266.4 190.9 L266.6 194.4 L266.8 190.3 L267.1 190.4 L267.3 187.3 L267.6 195.7 L267.8 191.9 L268.1 192 L268.3 192.4 L268.6 189.6 L268.8 189 L269.1 188.6 L269.3 189.4 L269.5 190.4 L269.8 194.5 L270 197 L270.3 197.3 L270.5 189.4 L270.8 197.3 L271 195.2 L271.3 192.3 L271.5 190.2 L271.7 192.7 L272 197.5 L272.2 192.5 L272.5 197.2 L272.7 197.8 L273 193 L273.2 193.5 L273.5 198.8 L273.7 194.7 L274 198.9 L274.2 200 L274.4 196.3 L274.7 200 L274.9 201.9 L275.2 196.6 L275.4 211.4 L275.7 199.2 L275.9 202.1 L276.2 197.8 L276.4 203.3 L276.7 198.6 L276.9 200.3 L277.1 200.8 L277.4 201.2 L277.6 204.9 L277.9 201 L278.1 204.6 L278.4 205.6 L278.6 203.9 L278.9 204.8 L279.1 203.6 L279.4 204.5 L279.6 206.3 L279.8 206.8 L280.1 206.6 L280.3 207.2 L280.6 208.1 L280.8 206.7 L281.1 206 L281.3 207.8 L281.6 208.5 L281.8 208.4 L282 207.6 L282.3 209.6 L282.5 207.6 L282.8 209.2 L283 208.3 L283.3 210.9 L283.5 210.8 L283.8 210.1 L284 210.3 L284.3 210.8 L284.5 215.3 L284.7 211.6 L285 210.8 L285.2 211.7 L285.5 211.9 L285.7 211.7 L286 213.2 L286.2 212.8 L286.5 213.7 L286.7 213.8 L287 214 L287.2 216 L287.4 213.7 L287.7 214.6 L287.9 214.7 L288.2 215 L288.4 215.2 L288.7 215.3 L288.9 215.2 L289.2 215.3 L289.4 215.4 L289.6 215.6 L289.9 215.7 L290.1 215.8 L290.4 216.2 L290.6 216.3 L290.9 216.5 L291.1 216.5 L291.4 216.3 L291.6 216.4 L291.9 216.3 L292.1 216.5 L292.3 216.4 L292.6 216.3 L292.8 216.5 L293.1 216.4 L293.3 216.3 L293.6 216.3 L293.8 216.4 L294.1 216.5 L294.3 216.4 L294.6 216.5 L294.8 216.4 L295 216.3 L295.3 216.3 L295.5 216.5 L295.8 216.4 L296 216.4 L296.3 216.4 L296.5 216.3 L296.8 216.5 L297 216.4 L297.3 216.4 L297.5 216.4 L297.7 216.4 L298 216.3 L298.2 216.4 L298.5 216.8 L298.7 216.3 L299 216.4 L299.2 216.5 L299.5 216.4 L299.7 216.3 L299.9 216.3 L300.2 216.5 L300.4 216.4 L300.7 216.3 L300.9 216.4 L301.2 216.4 L301.4 216.5 L301.7 216.3 L301.9 216.4 L302.2 216.4 L302.4 216.8 L302.4 217.9 Z" fill="#ff9cff"/>
<path d="M212.9 215.9 L213.1 215.7 L213.4 215.8 L213.6 215.5 L213.9 216 L214.1 215.6 L214.4 215.4 L214.6 215.8 L214.9 215.5 L215.1 216.1 L215.4 215.3 L215.6 215.2 L215.8 216 L216.1 216 L216.3 215.5 L216.6 216.1 L216.8 215.7 L217.1 216 L217.3 215.3 L217.6 215.5 L217.8 215.5 L218 215.9 L218.3 214.1 L218.5 215.8 L218.8 215.4 L219 215.3 L219.3 215.4 L219.5 215.1 L219.8 215.1 L220 215.3 L220.3 215.2 L220.5 215.3 L220.7 214.7 L221 215.7 L221.2 214.2 L221.5 214.8 L221.7 215 L222 214.7 L222.2 215.2 L222.5 214.6 L222.7 215.2 L223 212.9 L223.2 214.8 L223.4 215.4 L223.7 215.5 L223.9 214.8 L224.2 213.6 L224.4 215.7 L224.7 214.2 L224.9 214.3 L225.2 215 L225.4 212.6 L225.7 215.3 L225.9 212.5 L226.1 214.8 L226.4 214.5 L226.6 215.2 L226.9 214.4 L227.1 215.1 L227.4 214.1 L227.6 214.6 L227.9 215.5 L228.1 215 L228.3 213.9 L228.6 212.2 L228.8 214.4 L229.1 212.5 L229.3 214.9 L229.6 214.1 L229.8 214.5 L230.1 214 L230.3 213.2 L230.6 213.2 L230.8 213.3 L231 213.8 L231.3 213.4 L231.5 214 L231.8 212 L232 214.1 L232.3 212.8 L232.5 214.7 L232.8 214.7 L233 213.3 L233.3 213.4 L233.5 213.5 L233.7 212.4 L234 212.2 L234.2 214 L234.5 209.1 L234.7 212.6 L235 213.2 L235.2 212.6 L235.5 211.7 L235.7 212.8 L235.9 211.9 L236.2 211.5 L236.4 213.7 L236.7 211.6 L236.9 214.1 L237.2 209.4 L237.4 212.2 L237.7 212.1 L237.9 212.6 L238.2 210.6 L238.4 212.2 L238.6 209.3 L238.9 213.8 L239.1 210.5 L239.4 212.1 L239.6 209.6 L239.9 212.9 L240.1 212.7 L240.4 211.4 L240.6 210.1 L240.9 209.8 L241.1 210.8 L241.3 211.4 L241.6 210.5 L241.8 206.7 L242.1 209.2 L242.3 208.8 L242.6 207.1 L242.8 210.2 L243.1 208.1 L243.3 210.2 L243.6 206.7 L243.8 209.7 L244 203.1 L244.3 206.2 L244.5 206.6 L244.8 211.1 L245 206.9 L245.3 207.3 L245.5 211.8 L245.8 210.5 L246 204.2 L246.2 198.9 L246.5 205.5 L246.7 204.9 L247 205.7 L247.2 207.3 L247.5 204.4 L247.7 209.8 L248 208.2 L248.2 205.8 L248.5 208.7 L248.7 203.2 L248.9 206.6 L249.2 202.3 L249.4 203.4 L249.7 206 L249.9 202.4 L250.2 201.5 L250.4 202.1 L250.7 206 L250.9 202.4 L251.2 205 L251.4 189.2 L251.6 200.5 L251.9 198.6 L252.1 202.9 L252.4 203.1 L252.6 204.9 L252.9 205.7 L253.1 201.2 L253.4 196.7 L253.6 186.8 L253.8 198.7 L254.1 205.8 L254.3 203 L254.6 199 L254.8 203.7 L255.1 201.3 L255.3 201.7 L255.6 195.9 L255.8 198.6 L256.1 191.6 L256.3 196.2 L256.5 197.8 L256.8 192.7 L257 202.6 L257.3 202.1 L257.5 197.6 L257.8 189.4 L258 178.8 L258.3 200.4 L258.5 198.1 L258.8 198.7 L259 197.6 L259.2 186.3 L259.5 192.5 L259.7 195.8 L260 192.4 L260.2 189.5 L260.5 186.9 L260.7 186.7 L261 186 L261.2 187.4 L261.5 184.6 L261.7 188.7 L261.9 197.7 L262.2 197.2 L262.4 179 L262.7 182.9 L262.9 160.6 L263.2 157 L263.4 178.8 L263.7 174.5 L263.9 179.2 L264.1 180.9 L264.4 186.3 L264.6 194.5 L264.9 180.5 L265.1 181.9 L265.4 196.2 L265.6 195.3 L265.9 193 L266.1 187.4 L266.4 174.5 L266.6 185.7 L266.8 190.3 L267.1 192.8 L267.3 175.4 L267.6 196.6 L267.8 159.6 L268.1 190.9 L268.3 174.8 L268.6 185.9 L268.8 190.4 L269.1 195.2 L269.3 186.4 L269.5 183.5 L269.8 187.2 L270 182.7 L270.3 191.4 L270.5 177.6 L270.8 178.4 L271 182.8 L271.3 192.1 L271.5 192.7 L271.7 169.7 L272 188.3 L272.2 182.2 L272.5 186.5 L272.7 183.6 L273 196.7 L273.2 197 L273.5 195.2 L273.7 196 L274 194.8 L274.2 187.4 L274.4 198.8 L274.7 191.7 L274.9 199.1 L275.2 202 L275.4 191.7 L275.7 193.1 L275.9 179.2 L276.2 201.2 L276.4 197.6 L276.7 206.7 L276.9 199.7 L277.1 197.7 L277.4 204 L277.6 205.8 L277.9 205 L278.1 201.2 L278.4 207.5 L278.6 200.8 L278.9 202 L279.1 205.4 L279.4 205.4 L279.6 208.6 L279.8 208.4 L280.1 206.6 L280.3 205 L280.6 204.3 L280.8 206 L281.1 209 L281.3 208.2 L281.6 207.5 L281.8 206.7 L282 210 L282.3 207.3 L282.5 212 L282.8 204.9 L283 210.5 L283.3 208.8 L283.5 207.2 L283.8 212 L284 210.7 L284.3 209.3 L284.5 209.4 L284.7 210.3 L285 209.2 L285.2 209.9 L285.5 211 L285.7 213.2 L286 206.6 L286.2 210.6 L286.5 212 L286.7 212.9 L287 211.7 L287.2 209.6 L287.4 212.4 L287.7 214.7 L287.9 213.7 L288.2 213.3 L288.4 214.2 L288.7 214.8 L288.9 214.4 L289.2 215.3 L289.4 214.9 L289.6 215.2 L289.9 215.4 L290.1 215.6 L290.4 214.7 L290.6 215.5 L290.9 215.6 L291.1 215.3 L291.4 216.1 L291.6 215.4 L291.9 215.5 L292.1 216 L292.3 215.8 L292.6 215.3 L292.8 215.3 L293.1 215.6 L293.3 215.3 L293.6 214.6 L293.8 215.7 L294.1 215.8 L294.3 215.8 L294.6 215.5 L294.8 216 L295 216 L295.3 216 L295.5 216.1 L295.8 216 L296 215.8 L296.3 216 L296.5 216 L296.8 216.2 L297 216.1 L297.3 215.6 L297.5 216.2 L297.7 216 L298 215.8 L298.2 215.7 L298.5 216.2 L298.7 215.9 L299 216.1 L299.2 215.6 L299.5 216 L299.7 215.9 L299.9 215.9 L300.2 215.8 L300.4 215.7 L300.7 216.3 L300.9 215.8 L301.2 216.3 L301.4 216.2 L301.7 216 L301.9 216 L302.2 215.2 L302.4 216.2" fill="none" stroke="#ff18f4" stroke-width="0.8" stroke-linejoin="miter" stroke-miterlimit="2"/>
<path d="M212.9 216.4 H302.4" stroke="#ff30f0" stroke-width="1.2"/>
</g>
<path d="M212.9 148.4 H302.4 V216.9 H212.9 Z" fill="none" stroke="#2e2e2e" stroke-width="1.1"/>
<path d="M237.4 216.9 v-2 M237.4 148.4 v2 M261.9 216.9 v-2 M261.9 148.4 v2 M286.5 216.9 v-2 M286.5 148.4 v2 M212.9 203.2 h2 M302.4 203.2 h-2 M212.9 189.5 h2 M302.4 189.5 h-2 M212.9 175.8 h2 M302.4 175.8 h-2 M212.9 162.1 h2 M302.4 162.1 h-2" stroke="#2e2e2e" stroke-width="0.7" fill="none"/>
<text x="212.9" y="224.1" font-family='"Liberation Sans", sans-serif' font-size="6.8" text-anchor="middle" fill="#222">0</text>
<text x="237.4" y="224.1" font-family='"Liberation Sans", sans-serif' font-size="6.8" text-anchor="middle" fill="#222">100</text>
<text x="261.9" y="224.1" font-family='"Liberation Sans", sans-serif' font-size="6.8" text-anchor="middle" fill="#222">200</text>
<text x="286.5" y="224.1" font-family='"Liberation Sans", sans-serif' font-size="6.8" text-anchor="middle" fill="#222">300</text>
<text x="212.1" y="219.3" font-family='"Liberation Sans", sans-serif' font-size="6.5" text-anchor="end" fill="#222">0</text>
<text x="212.1" y="205.6" font-family='"Liberation Sans", sans-serif' font-size="6.5" text-anchor="end" fill="#222">5</text>
<text x="212.1" y="191.9" font-family='"Liberation Sans", sans-serif' font-size="6.5" text-anchor="end" fill="#222">10</text>
<text x="212.1" y="178.2" font-family='"Liberation Sans", sans-serif' font-size="6.5" text-anchor="end" fill="#222">15</text>
<text x="212.1" y="164.5" font-family='"Liberation Sans", sans-serif' font-size="6.5" text-anchor="end" fill="#222">20</text>
<text x="212.1" y="150.8" font-family='"Liberation Sans", sans-serif' font-size="6.5" text-anchor="end" fill="#222">25</text>
<text x="257.6" y="229.9" font-family='"Liberation Sans", sans-serif' font-size="6.8" text-anchor="middle" fill="#222">Calendar Day</text>
<text transform="translate(202.8 181.8) rotate(-90)" font-family='"Liberation Sans", sans-serif' font-size="6.7" text-anchor="middle" fill="#222">Model Precip (mm/day)</text>
<text x="215.2" y="164.9" font-family='"Liberation Sans", sans-serif' font-size="6.4" font-weight="bold" fill="#2222ff">Raw</text>
<text x="215.2" y="172.9" font-family='"Liberation Sans", sans-serif' font-size="6.4" font-weight="bold" fill="#ff20f0">Downscaled</text>
<g stroke="#2e2e2e" stroke-width="1.5" fill="none">
<path d="M36.5 18 H303.5 V230.5 H36.5 Z"/>
</g>
<path d="M36.8 230.2 L49 230.2" fill="none" stroke="#d8d820" stroke-width="2.0" stroke-linejoin="round" stroke-linecap="round" />
<path d="M36.5 230.5 v-2.6 M36.5 18 v2.6 M103.2 230.5 v-2.6 M103.2 18 v2.6 M170 230.5 v-2.6 M170 18 v2.6 M236.8 230.5 v-2.6 M236.8 18 v2.6 M303.5 230.5 v-2.6 M303.5 18 v2.6 M36.5 230.5 h2.6 M303.5 230.5 h-2.6 M36.5 159.7 h2.6 M303.5 159.7 h-2.6 M36.5 88.8 h2.6 M303.5 88.8 h-2.6 M36.5 18 h2.6 M303.5 18 h-2.6" stroke="#2e2e2e" stroke-width="0.9" fill="none"/>
<text transform="translate(36.5 242.9) scale(1 1.07)" font-family='"Liberation Sans", sans-serif' font-size="9.6" text-anchor="middle" fill="#111" stroke="#111" stroke-width="0.28">0</text>
<text transform="translate(103.2 242.9) scale(1 1.07)" font-family='"Liberation Sans", sans-serif' font-size="9.6" text-anchor="middle" fill="#111" stroke="#111" stroke-width="0.28">50</text>
<text transform="translate(170 242.9) scale(1 1.07)" font-family='"Liberation Sans", sans-serif' font-size="9.6" text-anchor="middle" fill="#111" stroke="#111" stroke-width="0.28">100</text>
<text transform="translate(236.8 242.9) scale(1 1.07)" font-family='"Liberation Sans", sans-serif' font-size="9.6" text-anchor="middle" fill="#111" stroke="#111" stroke-width="0.28">150</text>
<text transform="translate(303.5 242.9) scale(1 1.07)" font-family='"Liberation Sans", sans-serif' font-size="9.6" text-anchor="middle" fill="#111" stroke="#111" stroke-width="0.28">200</text>
<text transform="translate(32.4 234.8) scale(1 1.07)" font-family='"Liberation Sans", sans-serif' font-size="9.6" text-anchor="end" fill="#111" stroke="#111" stroke-width="0.28">0</text>
<text transform="translate(32.4 164) scale(1 1.07)" font-family='"Liberation Sans", sans-serif' font-size="9.6" text-anchor="end" fill="#111" stroke="#111" stroke-width="0.28">50</text>
<text transform="translate(32.4 93.1) scale(1 1.07)" font-family='"Liberation Sans", sans-serif' font-size="9.6" text-anchor="end" fill="#111" stroke="#111" stroke-width="0.28">100</text>
<text transform="translate(32.4 22.3) scale(1 1.07)" font-family='"Liberation Sans", sans-serif' font-size="9.6" text-anchor="end" fill="#111" stroke="#111" stroke-width="0.28">150</text>
<text transform="translate(170 257) scale(1 1.07)" font-family='"Liberation Sans", sans-serif' font-size="9.6" text-anchor="middle" fill="#111" stroke="#111" stroke-width="0.28">Model Precipitation (mm/day)</text>
<text transform="translate(9.7 124.2) rotate(-90) scale(1 1.07)" font-family='"Liberation Sans", sans-serif' font-size="9.6" text-anchor="middle" fill="#111" stroke="#111" stroke-width="0.28">Station Precipitation (mm/day)</text>
<text x="170.3" y="10.2" font-family='"Liberation Serif", serif' font-size="10.8" font-weight="bold" text-anchor="middle" fill="#000">MIROC5</text>
<text x="47.4" y="28.8" font-family='"Liberation Serif", serif' font-size="9.4" font-weight="bold" fill="#1a1aff">May</text>
<text x="47.4" y="38.6" font-family='"Liberation Serif", serif' font-size="9.4" font-weight="bold" fill="#1e8a1e">June</text>
<text x="47.4" y="48.5" font-family='"Liberation Serif", serif' font-size="9.4" font-weight="bold" fill="#ff1a1a">July</text>
<text x="47.4" y="58.3" font-family='"Liberation Serif", serif' font-size="9.4" font-weight="bold" fill="#19c4c4">August</text>
<text x="47.4" y="68.2" font-family='"Liberation Serif", serif' font-size="9.4" font-weight="bold" fill="#d21ee6">September</text>
<text x="47.4" y="78" font-family='"Liberation Serif", serif' font-size="9.4" font-weight="bold" fill="#cdcd28">October</text>
<clipPath id="cR"><rect x="360" y="16.5" width="267.5" height="212.5"/></clipPath>
<g clip-path="url(#cR)">
<path d="M382 228.6 L382.9 228 L383.9 226.4 L385.2 224.3 L386.6 221.9 L388.3 220.3 L390.2 217.8 L392.5 214.8 L395 212 L398 208.7 L401.4 205 L405.2 201.8 L409.2 198.4 L413.4 194 L417.5 191.1 L421.4 186.9 L425 183.7 L428.4 180.5 L431.6 178.9 L434.8 175.9 L437.9 173.5 L441 170.7 L444 167.5 L447 165.4 L450 163 L453.1 159.8 L456.2 157.9 L459.4 154.2 L462.5 151 L465.5 148.9 L468.3 145.5 L470.8 144.3 L473 141.9 L474.9 140.8 L476.4 139.7 L478.9 139.2 L480.7 138.7 L482 139" fill="none" stroke="#1e8a1e" stroke-width="1.5" stroke-linejoin="round" stroke-linecap="round" />
<path d="M380 229.4 L381.7 226.8 L382.8 224.9 L384.1 222.1 L385.4 220.4 L386.9 218.1 L388.4 216.1 L390 213.6 L391.6 211.7 L393.4 210 L395.2 207.8 L397.1 206.1 L399.1 203.6 L401 201.7 L403 200.3 L405 197.9 L406.9 195.9 L408.8 194.1 L410.7 191.6 L412.7 189.2 L414.7 187.8 L416.8 185.5 L419 183.4 L421.4 181.1 L424.1 179.1 L427 176.1 L430.1 174 L433.3 171.1 L436.5 168.8 L439.5 166.5 L442.4 163.9 L445 161.6 L447.4 160.1 L449.7 158.4 L451.9 156.6 L454 154.8 L455.9 153.5 L457.5 151.7 L458.9 150.6 L460 150" fill="none" stroke="#cdcd28" stroke-width="1.6" stroke-linejoin="round" stroke-linecap="round" />
<path d="M384.5 229.4 L386.7 226.2 L388.2 224.4 L389.8 223.4 L391.6 220.7 L393.4 218.6 L395.2 217 L397 214.9 L398.8 213.5 L400.6 211 L402.5 209.7 L404.5 207.2 L406.4 205.5 L408.3 203.9 L410.2 201.9 L412 200.4 L413.7 198.7 L415.2 196.8 L416.7 196.3 L418.2 194.9 L419.7 193.4 L421.3 191.9 L423.1 190.9 L425 188.7 L427.2 186.7 L429.6 183.9 L432.2 181.2 L434.9 177.8 L437.6 174.8 L440.2 171.7 L442.7 168.5 L445 166.4 L447.1 163.3 L449 161.4 L450.9 159.2 L452.6 156.7 L454.4 154.1 L456.2 152.5 L458 150.3 L460 147.7 L462.2 145.4 L464.7 143.5 L467.3 140.7 L469.9 139.3 L472.4 136.7 L474.7 134.8 L476.6 133.1 L478 132.1 L478 132" fill="none" stroke="#1a1aff" stroke-width="1.8" stroke-linejoin="round" stroke-linecap="round" />
<path d="M382 229.2 L383 227.8 L384.3 225.1 L385.9 223.5 L387.6 220 L389.5 217.6 L391.4 214.1 L393.2 211.9 L395 208.7 L396.7 206.7 L398.3 204.1 L399.9 201.6 L401.5 198.7 L403.2 196.5 L405 194 L406.9 190.4 L409 188 L411.2 185.6 L413.5 182.3 L416 179 L418.5 175.7 L421.2 173.2 L424 169.3 L426.9 166.9 L430 164.1 L433.4 160.7 L437.1 158.1 L441 155.4 L445.1 153 L449.1 150.2 L453 148.2 L456.7 145.8 L460 142.8 L463 141.1 L465.7 138 L468.2 135.8 L470.6 134.2 L472.9 132.3 L475.2 130.3 L477.6 128.4 L480 126.4 L482.6 123.8 L485.5 122.2 L488.4 120.3 L491.2 117.5 L494 116.1 L496.4 114.1 L498.5 112.7 L500 112 L500 112" fill="none" stroke="#ff1a1a" stroke-width="1.7" stroke-linejoin="round" stroke-linecap="round" />
<path d="M380 228.9 L380.9 227.9 L382.1 225.8 L383.5 222.8 L385.1 220.7 L386.8 217.7 L388.5 214.2 L390.3 212.2 L392 208.8 L393.7 206.2 L395.4 203.7 L397.1 201.2 L398.8 198 L400.7 195.8 L402.6 193.2 L404.7 190 L407 187.3 L409.4 184.1 L412 181.1 L414.7 177.2 L417.6 174.1 L420.5 170.8 L423.6 167.1 L426.7 164.6 L430 160.8 L433.6 156.8 L437.5 153.5 L441.7 149.5 L445.9 145.4 L450.1 141.7 L453.9 138.5 L457.3 135.1 L460 133.1 L462.1 131 L463.7 129.1 L465 128.6 L466.6 126.1 L468 124.7 L468 125" fill="none" stroke="#d21ee6" stroke-width="1.8" stroke-linejoin="round" stroke-linecap="round" />
<path d="M381 229.1 L381.9 227.7 L383.1 225.9 L384.6 222.7 L386.2 219.8 L387.9 217.7 L389.6 214.3 L391.4 211.5 L393 209.3 L394.5 206.3 L395.9 204.7 L397.3 202 L398.8 199.3 L400.3 197.7 L402 194.8 L403.8 191.6 L406 189.3 L408.5 185.9 L411.3 182 L414.4 177.9 L417.6 174 L420.8 168.8 L424 165.7 L427.1 161.6 L430 157.8 L432.8 154.9 L435.8 151.6 L438.7 149 L441.5 146.3 L444.1 143.6 L446.5 140.9 L448.5 139.4 L450 137.8 L450 138" fill="none" stroke="#ff80c0" stroke-width="1.3" stroke-linejoin="round" stroke-linecap="round" />
<path d="M378 229.3 L378.9 227.1 L380.2 225.1 L381.7 223.1 L383.3 219.7 L385 217.7 L386.8 214.8 L388.5 211.1 L390 209.2 L391.3 206.6 L392.5 204.4 L393.6 202.5 L394.8 200.3 L396 197.2 L397.4 195.2 L399 192.4 L401 189.6 L403.5 185 L406.4 182.3 L409.6 177.3 L413 173 L416.4 169.3 L419.6 165.6 L422.5 161.9 L425 157.8 L427 155.4 L428.8 151.6 L430.3 150.1 L431.6 146.8 L432.7 144.8 L433.8 142.2 L434.9 140.2 L436 138.4 L437.1 137.6 L438 136.3 L439.8 134.8 L441.4 133.2 L443 130.9 L444.7 129.2 L446.3 126 L447.9 124.5 L449.4 121.5 L450.9 120.3 L452.3 117.8 L453.7 116 L455.1 114.2 L456.4 111.7 L457.6 109.7 L458.8 108.2 L460 106.3 L461.3 103 L462.7 100.9 L463.9 98.5 L464.7 97.3 L464.7 97" fill="none" stroke="#19c4c4" stroke-width="1.5" stroke-linejoin="round" stroke-linecap="round" />
<path d="M376.3 229 L378.1 226 L380.6 221.9 L383.5 216.9 L386.7 211.6 L389.9 206.2 L393 201 L395.9 195.9 L398.9 190.6 L401.9 185.2 L405.1 179.9 L408.3 174.8 L411.8 170 L415.3 165.8 L418.9 162.1 L422.6 158.7 L426.6 155 L431 150.9 L436 146 L441.8 140.1 L448.2 133.6 L455.1 126.6 L462.2 119.2 L469.2 111.9 L476 104.6 L482.6 97.4 L489.1 90.1 L495.5 82.7 L502 75.3 L508.5 67.9 L515 60.5 L521.9 52.7 L529.3 44.4 L536.7 36.1 L543.7 28.4 L549.7 21.7 L554.3 16.5 L557.3 13.2 L558.9 11.3 L559.6 10.5 L559.8 10.3 L559.8 10.3 L560 10" fill="none" stroke="#33cccc" stroke-width="1.15" stroke-linejoin="round" stroke-linecap="round" />
<path d="M379 229 L380.1 227 L381.6 224.3 L383.3 221.1 L385.2 217.7 L387.2 214.2 L389 211 L390.7 208 L392.4 205 L394.2 202 L396 199 L397.9 196 L400 193 L402.1 190.1 L404.2 187.4 L406.4 184.7 L408.8 181.8 L411.7 178.6 L415 175 L418.9 170.8 L423.4 166.3 L428.3 161.4 L433.4 156.3 L438.5 151.1 L443.7 146 L448.1 141.6 L451.6 138 L455.3 134.4 L459.9 129.8 L466.5 123.3 L476 114.2 L490.1 100.7 L508.4 83.1 L528.6 63.8 L548.5 44.8 L565.7 28.3 L578 16.5 L584.7 10.1 L587.6 7.3 L587.9 7.1 L586.7 8.3 L585.3 9.7 L585 10" fill="none" stroke="#dc46ee" stroke-width="1.15" stroke-linejoin="round" stroke-linecap="round" />
<path d="M381 229 L382.2 227.1 L383.8 224.4 L385.7 221.2 L387.8 217.7 L389.9 214.3 L392 211 L394 207.9 L396.1 204.7 L398.2 201.6 L400.4 198.4 L402.7 195.2 L405 192 L407.3 188.9 L409.7 185.9 L412.1 182.8 L414.6 179.7 L417.2 176.5 L420 173 L421.3 170.5 L420.9 169.2 L420.5 167.8 L422.3 164.8 L428.1 158.9 L440 148.5 L461.2 131.2 L490.7 107.7 L524.3 81.2 L557.7 55 L586.7 32.4 L606.8 16.5 L617.1 8.3 L620.7 5.4 L619.8 6 L616.6 8.4 L613.3 11 L612 12" fill="none" stroke="#ff3a3a" stroke-width="1.15" stroke-linejoin="round" stroke-linecap="round" />
<path d="M386 229 L387.2 227.2 L388.8 224.6 L390.7 221.6 L392.8 218.3 L394.9 215 L397 212 L399 209.2 L400.9 206.6 L402.9 203.9 L405.1 201.1 L407.4 198.2 L410 195 L412.8 191.6 L415.6 188.2 L418.6 184.6 L422 180.7 L425.7 176.6 L430 172 L435.1 166.8 L440.9 160.9 L447.1 154.7 L453.4 148.5 L459.5 142.6 L465 137.4 L469.6 133.2 L473.4 129.9 L477 126.9 L480.9 123.7 L485.5 119.9 L491.4 115 L498.9 108.7 L507.6 101.5 L517 93.6 L526.8 85.4 L536.2 77.4 L545 70 L553.4 62.8 L561.8 55.4 L570 48.2 L577.7 41.5 L584.5 35.4 L590 30.4 L594.1 26.6 L597 23.7 L599 21.5 L600.4 19.9 L601.7 18.4 L603 17 L604.4 15.6 L605.4 14.5 L606.3 13.7 L607 13 L607.5 12.4 L608 12" fill="none" stroke="#3c3cff" stroke-width="1.15" stroke-linejoin="round" stroke-linecap="round" />
<path d="M384 229 L385.3 227 L387 224.3 L389.1 221.1 L391.4 217.6 L393.7 214.2 L396 211 L398.1 208.1 L400.3 205.4 L402.5 202.6 L404.8 199.9 L407.3 197 L410 194 L412.8 191 L415.7 188 L418.7 185 L422 181.7 L425.7 178.1 L430 174 L435 169.2 L440.7 163.8 L446.9 158 L453.1 152.1 L459.3 146.5 L465 141.4 L470.1 137.1 L474.6 133.4 L479.1 130 L483.7 126.4 L488.9 122.3 L495 117.3 L502.2 111.2 L510.4 104.3 L519.1 96.8 L528 89.2 L536.7 81.7 L545 74.6 L553 67.8 L561.1 61 L569.1 54.2 L576.7 47.8 L583.8 41.9 L590 36.7 L595.4 32.1 L600.3 28.1 L604.5 24.6 L608.2 21.5 L611.4 18.8 L614.1 16.5 L616.2 14.7 L617.6 13.4 L618.6 12.5 L619.1 11.9 L619.6 11.4 L620 11" fill="none" stroke="#d6d646" stroke-width="1.15" stroke-linejoin="round" stroke-linecap="round" />
<path d="M385 229 L386.4 227.1 L388.2 224.4 L390.4 221.2 L392.9 217.7 L395.5 214.3 L398 211 L400.5 208 L403.1 205 L405.8 202.1 L408.6 199 L411.7 195.6 L415 192 L418.5 188 L422.2 183.8 L426.1 179.4 L430.3 174.8 L434.9 170 L440 165 L445.8 159.7 L452.2 154.1 L459.1 148.3 L466.1 142.4 L473.1 136.7 L479.9 131.1 L486.6 125.6 L493.4 120.1 L500.2 114.7 L506.8 109.5 L513.1 104.5 L518.8 100 L523.7 96.2 L527.8 93.2 L531.5 90.4 L535.3 87.5 L539.7 84.1 L545 79.8 L551.6 74.2 L559.1 67.6 L567.2 60.5 L575.3 53.3 L583.1 46.6 L590 40.7 L596.3 35.6 L602.4 30.8 L608 26.5 L613.2 22.6 L617.7 19.3 L621.3 16.5 L623.9 14.4 L625.6 13.1 L626.6 12.2 L627.2 11.7 L627.6 11.4 L628 11" fill="none" stroke="#3a9e3a" stroke-width="1.15" stroke-linejoin="round" stroke-linecap="round" />
<path d="M360 229 L627.5 16.5" fill="none" stroke="#000" stroke-width="1.45" stroke-dasharray="3.2 3.0" stroke-linecap="butt"/>
<rect x="495.9" y="16.4" width="1.5" height="1.5" fill="#19c4c4"/>
<rect x="489.2" y="38.5" width="1.5" height="1.5" fill="#19c4c4"/>
<rect x="487.1" y="49.5" width="1.5" height="1.5" fill="#19c4c4"/>
<rect x="482.6" y="58.2" width="1.5" height="1.5" fill="#19c4c4"/>
<rect x="480.4" y="60.5" width="1.5" height="1.5" fill="#19c4c4"/>
<rect x="477.2" y="67.2" width="1.5" height="1.5" fill="#19c4c4"/>
<rect x="474.6" y="72.5" width="1.5" height="1.5" fill="#19c4c4"/>
<rect x="471.6" y="79.5" width="1.5" height="1.5" fill="#19c4c4"/>
<rect x="469.4" y="84.8" width="1.5" height="1.5" fill="#19c4c4"/>
<rect x="467.1" y="90" width="1.5" height="1.5" fill="#19c4c4"/>
<rect x="473.2" y="35.2" width="1.5" height="1.5" fill="#19c4c4"/>
<rect x="472.2" y="55.2" width="1.5" height="1.5" fill="#19c4c4"/>
<rect x="450.2" y="130.2" width="1.5" height="1.5" fill="#d21ee6"/>
<rect x="453.2" y="127.2" width="1.5" height="1.5" fill="#d21ee6"/>
<rect x="456.2" y="123.2" width="1.5" height="1.5" fill="#d21ee6"/>
<rect x="459.2" y="120.2" width="1.5" height="1.5" fill="#d21ee6"/>
<rect x="462.2" y="116.2" width="1.5" height="1.5" fill="#d21ee6"/>
<rect x="465.2" y="113.2" width="1.5" height="1.5" fill="#d21ee6"/>
<rect x="475.9" y="51.6" width="1.5" height="1.5" fill="#d21ee6"/>
<rect x="471.6" y="91.3" width="1.5" height="1.5" fill="#d21ee6"/>
<rect x="467.1" y="95.8" width="1.5" height="1.5" fill="#d21ee6"/>
<rect x="461.4" y="109" width="1.5" height="1.5" fill="#d21ee6"/>
<rect x="459.6" y="120" width="1.5" height="1.5" fill="#d21ee6"/>
<rect x="465.2" y="115.2" width="1.5" height="1.5" fill="#d21ee6"/>
<rect x="469.2" y="112.2" width="1.5" height="1.5" fill="#d21ee6"/>
<rect x="456.2" y="139.2" width="1.5" height="1.5" fill="#1a1aff"/>
<rect x="461.2" y="136.2" width="1.5" height="1.5" fill="#1a1aff"/>
<rect x="466.2" y="133.2" width="1.5" height="1.5" fill="#1a1aff"/>
<rect x="470.2" y="130.2" width="1.5" height="1.5" fill="#1a1aff"/>
<rect x="475.2" y="127.2" width="1.5" height="1.5" fill="#1a1aff"/>
<rect x="491.4" y="73.8" width="1.5" height="1.5" fill="#1a1aff"/>
<rect x="493.2" y="73.8" width="1.5" height="1.5" fill="#1a1aff"/>
<rect x="471.6" y="102.3" width="1.5" height="1.5" fill="#1a1aff"/>
<rect x="467.2" y="107.2" width="1.5" height="1.5" fill="#1a1aff"/>
<rect x="506.9" y="87" width="1.5" height="1.5" fill="#ff1a1a"/>
<rect x="500.2" y="95.8" width="1.5" height="1.5" fill="#ff1a1a"/>
<rect x="491.4" y="106.8" width="1.5" height="1.5" fill="#ff1a1a"/>
<rect x="482.6" y="113.3" width="1.5" height="1.5" fill="#ff1a1a"/>
<rect x="477.2" y="120" width="1.5" height="1.5" fill="#ff1a1a"/>
<rect x="487.2" y="109.2" width="1.5" height="1.5" fill="#ff1a1a"/>
<rect x="496.2" y="100.2" width="1.5" height="1.5" fill="#ff1a1a"/>
<rect x="524.2" y="76.8" width="1.5" height="1.5" fill="#ff1a1a"/>
<rect x="534.2" y="70.7" width="1.5" height="1.5" fill="#ff1a1a"/>
<rect x="548.5" y="60.5" width="1.5" height="1.5" fill="#ff1a1a"/>
<rect x="553" y="22.1" width="1.5" height="1.5" fill="#ff1a1a"/>
<rect x="509.1" y="115.5" width="1.5" height="1.5" fill="#1e8a1e"/>
<rect x="500.2" y="122.2" width="1.5" height="1.5" fill="#1e8a1e"/>
<rect x="491.4" y="126.5" width="1.5" height="1.5" fill="#1e8a1e"/>
<rect x="504.2" y="118.2" width="1.5" height="1.5" fill="#1e8a1e"/>
<rect x="514.2" y="111.2" width="1.5" height="1.5" fill="#1e8a1e"/>
<rect x="519.2" y="105.2" width="1.5" height="1.5" fill="#1e8a1e"/>
<rect x="487.2" y="130.2" width="1.5" height="1.5" fill="#1e8a1e"/>
<rect x="481.2" y="134.2" width="1.5" height="1.5" fill="#1e8a1e"/>
<rect x="495.2" y="125.2" width="1.5" height="1.5" fill="#1e8a1e"/>
</g>
<rect x="515" y="143" width="112.5" height="86" fill="#fff"/>
<clipPath id="ic200"><rect x="536.8" y="145.3" width="89.20000000000005" height="68.39999999999998"/></clipPath>
<g clip-path="url(#ic200)">
<path d="M536.8 214.7 L536.8 213.7 L537 213.7 L537.3 213.7 L537.5 213.7 L537.8 213.7 L538 213.7 L538.3 213.7 L538.5 213.7 L538.8 213.7 L539 213.7 L539.2 213.7 L539.5 213.7 L539.7 213.7 L540 213.7 L540.2 213.7 L540.5 213.7 L540.7 213.7 L541 213.7 L541.2 213.7 L541.4 213.7 L541.7 213.7 L541.9 213.7 L542.2 213.7 L542.4 213.7 L542.7 213.7 L542.9 213.7 L543.2 213.7 L543.4 213.7 L543.6 213.7 L543.9 213.7 L544.1 213.7 L544.4 213.7 L544.6 213.7 L544.9 213.7 L545.1 213.7 L545.4 213.7 L545.6 213.7 L545.8 213.7 L546.1 213.7 L546.3 213.7 L546.6 213.7 L546.8 213.7 L547.1 213.7 L547.3 213.7 L547.6 213.7 L547.8 213.7 L548 213.7 L548.3 213.7 L548.5 213.7 L548.8 213.7 L549 213.7 L549.3 213.4 L549.5 213.4 L549.8 213.2 L550 212.9 L550.2 212.3 L550.5 212.3 L550.7 212.2 L551 212.3 L551.2 212.1 L551.5 212 L551.7 211.8 L552 210.6 L552.2 210.2 L552.4 208 L552.7 210.6 L552.9 209.6 L553.2 210 L553.4 210.3 L553.7 210 L553.9 209.1 L554.2 210.1 L554.4 206.1 L554.6 209.6 L554.9 207.7 L555.1 207.9 L555.4 207.5 L555.6 208.8 L555.9 206.8 L556.1 207.4 L556.4 207.4 L556.6 205 L556.8 208 L557.1 207.5 L557.3 206.1 L557.6 204.3 L557.8 205.4 L558.1 201.4 L558.3 205.7 L558.6 205.3 L558.8 199.6 L559 201.2 L559.3 198.6 L559.5 199 L559.8 192.2 L560 193.7 L560.3 200.8 L560.5 199.1 L560.7 192.8 L561 194 L561.2 188.6 L561.5 181.3 L561.7 188.4 L562 190.3 L562.2 191.9 L562.5 179.2 L562.7 186.7 L562.9 186 L563.2 183.8 L563.4 190.2 L563.7 187.5 L563.9 189.1 L564.2 185.6 L564.4 180 L564.7 192.2 L564.9 195.1 L565.1 186.1 L565.4 195.3 L565.6 184.7 L565.9 184.3 L566.1 193.8 L566.4 186.8 L566.6 189.3 L566.9 192.1 L567.1 192 L567.3 194 L567.6 188.8 L567.8 192.7 L568.1 190.9 L568.3 182.2 L568.6 192.9 L568.8 179.6 L569.1 181.7 L569.3 191.6 L569.5 174.2 L569.8 187.9 L570 174.1 L570.3 180.5 L570.5 191.6 L570.8 182.3 L571 186.3 L571.3 170.1 L571.5 188.3 L571.7 191.9 L572 186.1 L572.2 190.9 L572.5 163.4 L572.7 183.5 L573 188.5 L573.2 168.7 L573.5 190.1 L573.7 191.8 L573.9 179.7 L574.2 166.6 L574.4 180 L574.7 166.5 L574.9 181.8 L575.2 186.1 L575.4 177.3 L575.7 176.5 L575.9 176.4 L576.1 179.7 L576.4 180.6 L576.6 179.8 L576.9 188.9 L577.1 191.5 L577.4 177.8 L577.6 186.8 L577.9 190.4 L578.1 188.9 L578.3 185.5 L578.6 183.1 L578.8 179.2 L579.1 176.7 L579.3 189.7 L579.6 174 L579.8 161 L580.1 188 L580.3 178.7 L580.5 169.5 L580.8 175.4 L581 175.2 L581.3 177.1 L581.5 185.1 L581.8 182.4 L582 178.4 L582.3 179.9 L582.5 178.6 L582.7 173 L583 182.3 L583.2 182.3 L583.5 175.5 L583.7 180.7 L584 179.5 L584.2 179.4 L584.5 159.8 L584.7 162 L584.9 160.4 L585.2 180.4 L585.4 178.7 L585.7 191.7 L585.9 160.3 L586.2 189.1 L586.4 183.9 L586.7 162.6 L586.9 179.6 L587.1 175.9 L587.4 189.2 L587.6 169.2 L587.9 189.2 L588.1 182.8 L588.4 187.2 L588.6 182.1 L588.9 178.4 L589.1 189.3 L589.3 185.2 L589.6 188.6 L589.8 166.2 L590.1 192.5 L590.3 181 L590.6 178.8 L590.8 183.2 L591.1 163.6 L591.3 185 L591.5 187.2 L591.8 192.9 L592 192.4 L592.3 185.1 L592.5 184.2 L592.8 171.7 L593 180.4 L593.3 175 L593.5 186.4 L593.7 178.4 L594 180.4 L594.2 180.2 L594.5 183.1 L594.7 178.1 L595 180.6 L595.2 178.4 L595.5 178.4 L595.7 188.9 L595.9 183 L596.2 179.7 L596.4 183.8 L596.7 185.4 L596.9 189.3 L597.2 191.2 L597.4 186.5 L597.7 167 L597.9 186.1 L598.1 179.9 L598.4 165.5 L598.6 178.7 L598.9 189.6 L599.1 190.3 L599.4 179.4 L599.6 178.9 L599.9 181.8 L600.1 172.6 L600.3 184.3 L600.6 182.8 L600.8 179.8 L601.1 178.6 L601.3 188.4 L601.6 184.4 L601.8 165.4 L602.1 163.7 L602.3 189.3 L602.5 189.8 L602.8 192.1 L603 179.3 L603.3 183.7 L603.5 182.2 L603.8 189 L604 184.7 L604.2 179.1 L604.5 193.4 L604.7 179.3 L605 185.1 L605.2 170.2 L605.5 168 L605.7 193.3 L606 182 L606.2 192.6 L606.4 187.4 L606.7 193.9 L606.9 193 L607.2 188.6 L607.4 181.6 L607.7 188.9 L607.9 184.5 L608.2 174.9 L608.4 187.1 L608.6 194.8 L608.9 193 L609.1 188.2 L609.4 192.9 L609.6 190.2 L609.9 183.6 L610.1 194.1 L610.4 187 L610.6 188.5 L610.8 194.8 L611.1 198.5 L611.3 194.4 L611.6 190.2 L611.8 193.4 L612.1 200.1 L612.3 193.8 L612.6 187.7 L612.8 198.7 L613 198.4 L613.3 205.7 L613.5 205.6 L613.8 208 L614 209.5 L614.3 210.1 L614.5 211.3 L614.8 212 L615 211.7 L615.2 211.5 L615.5 212.3 L615.7 213.1 L616 213.3 L616.2 213.7 L616.5 213.7 L616.7 213.7 L617 213.7 L617.2 213.7 L617.4 213.7 L617.7 213.7 L617.9 213.7 L618.2 213.7 L618.4 213.7 L618.7 213.7 L618.9 213.7 L619.2 213.7 L619.4 213.7 L619.6 213.7 L619.9 213.7 L620.1 213.7 L620.4 213.7 L620.6 213.7 L620.9 213.7 L621.1 213.7 L621.4 213.7 L621.6 213.7 L621.8 213.7 L622.1 213.7 L622.3 213.7 L622.6 213.7 L622.8 213.7 L623.1 213.7 L623.3 213.7 L623.6 213.7 L623.8 213.7 L624 213.7 L624.3 213.7 L624.5 213.7 L624.8 213.7 L625 213.7 L625.3 213.7 L625.5 213.7 L625.8 213.7 L626 213.7 L626 214.7 Z" fill="#bcbcf6"/>
<path d="M536.8 214.7 L536.8 212.9 L537 212.9 L537.3 212.9 L537.5 212.8 L537.8 213.1 L538 212.6 L538.3 212.9 L538.5 213 L538.8 213.1 L539 213 L539.2 213 L539.5 213.1 L539.7 213.1 L540 212.8 L540.2 212.8 L540.5 212.8 L540.7 213 L541 213 L541.2 213.1 L541.4 213 L541.7 212.7 L541.9 213.1 L542.2 213.1 L542.4 212.7 L542.7 213.1 L542.9 213 L543.2 212.9 L543.4 213 L543.6 213 L543.9 212.8 L544.1 212.9 L544.4 212.9 L544.6 213.1 L544.9 212.8 L545.1 212.9 L545.4 213 L545.6 213 L545.8 213 L546.1 213 L546.3 212.9 L546.6 213 L546.8 212.9 L547.1 212.8 L547.3 213 L547.6 213.1 L547.8 212.9 L548 212.8 L548.3 213 L548.5 213.1 L548.8 213 L549 212.9 L549.3 212.9 L549.5 212.6 L549.8 212.9 L550 212.4 L550.2 212.7 L550.5 212 L550.7 212 L551 211.9 L551.2 211.7 L551.5 211.3 L551.7 211.9 L552 211.9 L552.2 211.4 L552.4 211.3 L552.7 211 L552.9 211.6 L553.2 211.3 L553.4 210.7 L553.7 210.3 L553.9 211.4 L554.2 211.2 L554.4 210.2 L554.6 210 L554.9 211.1 L555.1 210.7 L555.4 209.9 L555.6 209.8 L555.9 210.3 L556.1 210.5 L556.4 209.3 L556.6 210.6 L556.8 209.4 L557.1 209 L557.3 209.1 L557.6 209.3 L557.8 209.2 L558.1 209.3 L558.3 208.1 L558.6 209.1 L558.8 209.9 L559 209.1 L559.3 208.9 L559.5 206.3 L559.8 209.2 L560 207.9 L560.3 208.4 L560.5 208.4 L560.7 207.7 L561 209 L561.2 206.7 L561.5 208.6 L561.7 207.5 L562 207 L562.2 205 L562.5 207.6 L562.7 207.8 L562.9 208.2 L563.2 207.1 L563.4 203.7 L563.7 207.9 L563.9 206.2 L564.2 206.7 L564.4 206.5 L564.7 205.8 L564.9 207.4 L565.1 205.6 L565.4 204.2 L565.6 206.5 L565.9 204.2 L566.1 205.4 L566.4 200.6 L566.6 205.7 L566.9 202.4 L567.1 202.9 L567.3 204.5 L567.6 204.8 L567.8 205 L568.1 202.4 L568.3 199.6 L568.6 199.1 L568.8 199.7 L569.1 203.6 L569.3 200.4 L569.5 200.6 L569.8 200 L570 200.3 L570.3 196.2 L570.5 195.8 L570.8 200 L571 195.6 L571.3 195.4 L571.5 198.1 L571.7 195.8 L572 199 L572.2 197.6 L572.5 196.6 L572.7 197.4 L573 192.4 L573.2 194.2 L573.5 193.7 L573.7 195 L573.9 193.4 L574.2 194.1 L574.4 188.5 L574.7 193.1 L574.9 190.8 L575.2 188.5 L575.4 186.3 L575.7 192.8 L575.9 191.4 L576.1 190 L576.4 193.9 L576.6 188.6 L576.9 188 L577.1 188.4 L577.4 186.5 L577.6 191.7 L577.9 184.9 L578.1 181.7 L578.3 180.9 L578.6 188.9 L578.8 178.3 L579.1 180 L579.3 174.3 L579.6 181.9 L579.8 178.7 L580.1 179.9 L580.3 176.5 L580.5 172.9 L580.8 177.8 L581 179.1 L581.3 180.6 L581.5 188.2 L581.8 186.3 L582 176.9 L582.3 176.2 L582.5 182.9 L582.7 177 L583 185.7 L583.2 185.6 L583.5 184.4 L583.7 176.1 L584 185.1 L584.2 171 L584.5 175.9 L584.7 179.5 L584.9 175 L585.2 184.8 L585.4 169.7 L585.7 179.2 L585.9 173.2 L586.2 167.7 L586.4 176.3 L586.7 177.6 L586.9 171.8 L587.1 182.8 L587.4 168.5 L587.6 176.3 L587.9 176.4 L588.1 174.6 L588.4 173.9 L588.6 179.7 L588.9 159.8 L589.1 171.6 L589.3 178.7 L589.6 173.1 L589.8 175.9 L590.1 175.3 L590.3 179.7 L590.6 163.7 L590.8 180.9 L591.1 175.8 L591.3 171.8 L591.5 179.6 L591.8 167.2 L592 175.1 L592.3 163.1 L592.5 169.2 L592.8 179.7 L593 173.2 L593.3 172.1 L593.5 162.8 L593.7 163.5 L594 173.6 L594.2 172.4 L594.5 165.7 L594.7 171.9 L595 173.7 L595.2 170.8 L595.5 165.7 L595.7 178.6 L595.9 171.5 L596.2 164 L596.4 174.5 L596.7 168.2 L596.9 181.6 L597.2 171.8 L597.4 179.8 L597.7 163.5 L597.9 177.5 L598.1 178.9 L598.4 172.9 L598.6 176.5 L598.9 172.5 L599.1 171.9 L599.4 166.7 L599.6 181.6 L599.9 158.5 L600.1 171.7 L600.3 165.4 L600.6 169.8 L600.8 180.7 L601.1 180.6 L601.3 181.9 L601.6 167.4 L601.8 171.8 L602.1 178.5 L602.3 173.6 L602.5 174.6 L602.8 175.6 L603 187.2 L603.3 188.5 L603.5 189.8 L603.8 179 L604 187.4 L604.2 190.6 L604.5 186.8 L604.7 185 L605 191.4 L605.2 178.3 L605.5 192.4 L605.7 189.8 L606 185.4 L606.2 192.8 L606.4 192.7 L606.7 192.7 L606.9 193.8 L607.2 193.5 L607.4 193.2 L607.7 194.3 L607.9 190.2 L608.2 197.9 L608.4 199.3 L608.6 195.8 L608.9 195.6 L609.1 199.2 L609.4 197.2 L609.6 203.5 L609.9 201.1 L610.1 204.2 L610.4 200.6 L610.6 201.6 L610.8 202.9 L611.1 204.1 L611.3 205.4 L611.6 207 L611.8 206.7 L612.1 207.2 L612.3 209.2 L612.6 209 L612.8 208.9 L613 210.1 L613.3 211.1 L613.5 211.2 L613.8 212.6 L614 212.8 L614.3 212.7 L614.5 212.9 L614.8 213 L615 213 L615.2 212.9 L615.5 213.1 L615.7 213.1 L616 212.8 L616.2 212.9 L616.5 213 L616.7 212.7 L617 213.1 L617.2 213 L617.4 213 L617.7 213.1 L617.9 212.9 L618.2 213 L618.4 213.1 L618.7 212.9 L618.9 213.1 L619.2 212.9 L619.4 212.9 L619.6 213.1 L619.9 212.9 L620.1 213 L620.4 212.9 L620.6 212.8 L620.9 213 L621.1 213 L621.4 213.1 L621.6 212.9 L621.8 213 L622.1 213 L622.3 213 L622.6 213 L622.8 213 L623.1 213.1 L623.3 213 L623.6 213.1 L623.8 213.1 L624 212.9 L624.3 213 L624.5 213.1 L624.8 213 L625 212.8 L625.3 213 L625.5 212.8 L625.8 212.9 L626 213.1 L626 214.7 Z" fill="#ff9cff"/>
<path d="M536.8 213.7 L537 213.7 L537.3 213.7 L537.5 213.7 L537.8 213.7 L538 213.7 L538.3 213.7 L538.5 213.7 L538.8 213.7 L539 213.7 L539.2 213.7 L539.5 213.7 L539.7 213.7 L540 213.7 L540.2 213.7 L540.5 213.7 L540.7 213.7 L541 213.7 L541.2 213.7 L541.4 213.7 L541.7 213.7 L541.9 213.7 L542.2 213.7 L542.4 213.7 L542.7 213.7 L542.9 213.7 L543.2 213.7 L543.4 213.7 L543.6 213.7 L543.9 213.7 L544.1 213.7 L544.4 213.7 L544.6 213.7 L544.9 213.7 L545.1 213.7 L545.4 213.7 L545.6 213.7 L545.8 213.7 L546.1 213.7 L546.3 213.7 L546.6 213.7 L546.8 213.7 L547.1 213.7 L547.3 213.7 L547.6 213.7 L547.8 213.7 L548 213.5 L548.3 213.4 L548.5 213.3 L548.8 213 L549 212.8 L549.3 212.6 L549.5 212.1 L549.8 212.5 L550 211.8 L550.2 212.5 L550.5 211.8 L550.7 211.8 L551 211.5 L551.2 211.9 L551.5 211.4 L551.7 211.4 L552 210.5 L552.2 210.9 L552.4 211.1 L552.7 210.7 L552.9 211.1 L553.2 210.9 L553.4 210.2 L553.7 208.8 L553.9 209.2 L554.2 208.8 L554.4 208.1 L554.6 208.2 L554.9 208.1 L555.1 207.5 L555.4 208.1 L555.6 208.1 L555.9 208.9 L556.1 207.1 L556.4 206.1 L556.6 208.8 L556.8 207.7 L557.1 206.2 L557.3 207.1 L557.6 205.1 L557.8 206.2 L558.1 204.1 L558.3 204.5 L558.6 205.5 L558.8 204.7 L559 205.2 L559.3 203.9 L559.5 202.8 L559.8 201.7 L560 204.2 L560.3 204.5 L560.5 204.4 L560.7 205.4 L561 201.7 L561.2 199 L561.5 200.5 L561.7 204.8 L562 201 L562.2 201.4 L562.5 201 L562.7 201.1 L562.9 201.3 L563.2 201.9 L563.4 197.2 L563.7 193.7 L563.9 201.7 L564.2 200.7 L564.4 200.6 L564.7 196.3 L564.9 198.9 L565.1 201.3 L565.4 195.9 L565.6 196.7 L565.9 195.1 L566.1 194.8 L566.4 199.5 L566.6 195.8 L566.9 199.4 L567.1 192.9 L567.3 198.9 L567.6 194.5 L567.8 195.4 L568.1 196.8 L568.3 201 L568.6 200.7 L568.8 193.2 L569.1 194.5 L569.3 200.2 L569.5 194.6 L569.8 199.4 L570 193.8 L570.3 196.7 L570.5 199.5 L570.8 195.5 L571 197.2 L571.3 198.4 L571.5 194.9 L571.7 190.1 L572 193.4 L572.2 198.8 L572.5 199.9 L572.7 192.8 L573 199.8 L573.2 197.2 L573.5 196.9 L573.7 193 L573.9 197.2 L574.2 190.4 L574.4 192.8 L574.7 195.6 L574.9 192.2 L575.2 195.1 L575.4 190.6 L575.7 190.2 L575.9 190.4 L576.1 190.7 L576.4 194.5 L576.6 191.4 L576.9 192.4 L577.1 194.3 L577.4 191.5 L577.6 191.5 L577.9 188.7 L578.1 193.8 L578.3 187.1 L578.6 189.7 L578.8 191 L579.1 193.3 L579.3 187.3 L579.6 188 L579.8 189.4 L580.1 184.9 L580.3 191.1 L580.5 191.6 L580.8 192.9 L581 185.2 L581.3 185 L581.5 183.4 L581.8 193.8 L582 190.7 L582.3 192.4 L582.5 182.4 L582.7 184.1 L583 183.8 L583.2 192 L583.5 188.2 L583.7 190.1 L584 192.9 L584.2 186.4 L584.5 187.2 L584.7 191.9 L584.9 192.7 L585.2 187.2 L585.4 194.8 L585.7 186.3 L585.9 183.3 L586.2 190.7 L586.4 185.1 L586.7 189.4 L586.9 188.7 L587.1 192.6 L587.4 190.3 L587.6 191.3 L587.9 193.9 L588.1 191.4 L588.4 181.7 L588.6 183.3 L588.9 184.3 L589.1 194.4 L589.3 176.6 L589.6 182.8 L589.8 184.4 L590.1 187.8 L590.3 194.7 L590.6 191.6 L590.8 188.5 L591.1 191.5 L591.3 191.5 L591.5 186.9 L591.8 192.3 L592 192 L592.3 195 L592.5 185.5 L592.8 192 L593 193.5 L593.3 189.3 L593.5 186.2 L593.7 183.6 L594 189.7 L594.2 186.3 L594.5 184.5 L594.7 188.6 L595 192.9 L595.2 188.6 L595.5 192.9 L595.7 187.3 L595.9 185.8 L596.2 185.8 L596.4 186.8 L596.7 184.8 L596.9 194.7 L597.2 193.9 L597.4 191.1 L597.7 191.7 L597.9 185.3 L598.1 190.7 L598.4 185.5 L598.6 187.1 L598.9 192.8 L599.1 193.3 L599.4 181.4 L599.6 189.9 L599.9 194 L600.1 194 L600.3 191.1 L600.6 187.2 L600.8 192.6 L601.1 186.2 L601.3 193.3 L601.6 187.2 L601.8 177.8 L602.1 187 L602.3 189.3 L602.5 192.5 L602.8 185.4 L603 184.4 L603.3 175.5 L603.5 194.3 L603.8 185.5 L604 191.4 L604.2 195 L604.5 192.9 L604.7 185.1 L605 187.1 L605.2 191.1 L605.5 190 L605.7 185.4 L606 190 L606.2 195.7 L606.4 186.3 L606.7 193.8 L606.9 190.4 L607.2 196.3 L607.4 196.5 L607.7 190.2 L607.9 195.4 L608.2 198.9 L608.4 197.6 L608.6 193.4 L608.9 198.2 L609.1 201.2 L609.4 198.7 L609.6 196.3 L609.9 203 L610.1 197.5 L610.4 201.3 L610.6 202.7 L610.8 201 L611.1 202.2 L611.3 204 L611.6 203.5 L611.8 207 L612.1 204.4 L612.3 207.6 L612.6 205.9 L612.8 207.8 L613 208.3 L613.3 209.9 L613.5 209.2 L613.8 210.9 L614 210 L614.3 211.1 L614.5 211.4 L614.8 212.2 L615 211.9 L615.2 212 L615.5 212.5 L615.7 212.8 L616 213.3 L616.2 213.1 L616.5 213.2 L616.7 213.2 L617 213.3 L617.2 213.3 L617.4 213.2 L617.7 213.1 L617.9 213.2 L618.2 213.3 L618.4 213.4 L618.7 213.2 L618.9 213.3 L619.2 213.2 L619.4 213.4 L619.6 213.4 L619.9 213.3 L620.1 213.5 L620.4 213.4 L620.6 213.4 L620.9 213.5 L621.1 213.4 L621.4 213.5 L621.6 213.4 L621.8 213.5 L622.1 213.5 L622.3 213.5 L622.6 213.5 L622.8 213.6 L623.1 213.5 L623.3 213.5 L623.6 213.6 L623.8 213.6 L624 213.6 L624.3 213.6 L624.5 213.6 L624.8 213.6 L625 213.6 L625.3 213.7 L625.5 213.7 L625.8 213.7 L626 213.7" fill="none" stroke="#1010ff" stroke-width="1.2" stroke-linejoin="miter" stroke-miterlimit="2"/>
<path d="M536.8 212.9 L537 213 L537.3 212.8 L537.5 212.8 L537.8 213.1 L538 212.6 L538.3 212.8 L538.5 212.9 L538.8 213.1 L539 212.8 L539.2 212.6 L539.5 213.1 L539.7 212.6 L540 213 L540.2 212.9 L540.5 212.7 L540.7 212.8 L541 212.9 L541.2 212.7 L541.4 212.8 L541.7 212.8 L541.9 212.6 L542.2 212.5 L542.4 212.8 L542.7 212.7 L542.9 212.9 L543.2 212.8 L543.4 212.7 L543.6 212.8 L543.9 212.7 L544.1 212.8 L544.4 212.9 L544.6 212.8 L544.9 212.8 L545.1 213 L545.4 212.5 L545.6 212.4 L545.8 212.9 L546.1 213 L546.3 212.4 L546.6 212.7 L546.8 212.8 L547.1 212.5 L547.3 212 L547.6 212.9 L547.8 212.6 L548 212.4 L548.3 212.9 L548.5 212.4 L548.8 212.8 L549 212.6 L549.3 212.5 L549.5 212.4 L549.8 213 L550 213 L550.2 212.7 L550.5 212.4 L550.7 212.4 L551 212.6 L551.2 212.4 L551.5 212.4 L551.7 212.4 L552 212.6 L552.2 212.7 L552.4 212.8 L552.7 211.9 L552.9 211.3 L553.2 212.3 L553.4 211.9 L553.7 211.2 L553.9 212.2 L554.2 211.6 L554.4 212.5 L554.6 212 L554.9 211.2 L555.1 211.2 L555.4 211.8 L555.6 211.5 L555.9 211.8 L556.1 211.1 L556.4 210.9 L556.6 210.7 L556.8 211.7 L557.1 210.5 L557.3 210.9 L557.6 211.4 L557.8 210.9 L558.1 210.5 L558.3 212 L558.6 211.6 L558.8 211 L559 210.2 L559.3 209.9 L559.5 211.3 L559.8 210 L560 211.5 L560.3 211.1 L560.5 210.4 L560.7 209.7 L561 208.9 L561.2 209.7 L561.5 209.4 L561.7 210.1 L562 210.4 L562.2 208.9 L562.5 210.8 L562.7 208.7 L562.9 208.9 L563.2 210.2 L563.4 208.5 L563.7 210 L563.9 209 L564.2 208.7 L564.4 209.9 L564.7 207.7 L564.9 205.8 L565.1 207.3 L565.4 208.3 L565.6 207.9 L565.9 209.4 L566.1 207.9 L566.4 206.5 L566.6 206.8 L566.9 203.1 L567.1 204.8 L567.3 204.9 L567.6 207.6 L567.8 204.3 L568.1 204.7 L568.3 206.2 L568.6 204.3 L568.8 203.7 L569.1 208 L569.3 202.5 L569.5 201.9 L569.8 202.5 L570 203.9 L570.3 205.3 L570.5 207 L570.8 202.5 L571 201.4 L571.3 206.3 L571.5 203.9 L571.7 201.8 L572 203.5 L572.2 199 L572.5 200.1 L572.7 203.4 L573 205.1 L573.2 205.1 L573.5 204.4 L573.7 202.9 L573.9 199.6 L574.2 202.2 L574.4 200.9 L574.7 197.6 L574.9 201.9 L575.2 200 L575.4 188.7 L575.7 203.3 L575.9 195.5 L576.1 199.4 L576.4 188.5 L576.6 199 L576.9 200.8 L577.1 199.3 L577.4 194.5 L577.6 198.9 L577.9 199.1 L578.1 196.1 L578.3 195.7 L578.6 199.2 L578.8 183.1 L579.1 192.3 L579.3 196.3 L579.6 199.8 L579.8 195.1 L580.1 191.2 L580.3 193.5 L580.5 196.2 L580.8 193.4 L581 193.7 L581.3 195.3 L581.5 196.4 L581.8 198.2 L582 190.3 L582.3 198.2 L582.5 200.9 L582.7 195.3 L583 192.9 L583.2 196.8 L583.5 198.2 L583.7 195.3 L584 197.9 L584.2 194.1 L584.5 198.1 L584.7 186.4 L584.9 194.9 L585.2 198.6 L585.4 192.8 L585.7 193.5 L585.9 193.4 L586.2 184.7 L586.4 192.5 L586.7 187.7 L586.9 189.8 L587.1 190 L587.4 169.1 L587.6 198.6 L587.9 198.2 L588.1 186.9 L588.4 175.9 L588.6 195.9 L588.9 185.1 L589.1 187.9 L589.3 181.9 L589.6 185.1 L589.8 189.4 L590.1 193 L590.3 185.1 L590.6 189.4 L590.8 181.8 L591.1 190.1 L591.3 194.6 L591.5 189.2 L591.8 197.7 L592 194.3 L592.3 195.7 L592.5 185.4 L592.8 190.5 L593 177.8 L593.3 196.1 L593.5 184.7 L593.7 189.3 L594 190.5 L594.2 193.8 L594.5 192.2 L594.7 195.8 L595 189.7 L595.2 194.8 L595.5 186.4 L595.7 190.1 L595.9 187.9 L596.2 191.8 L596.4 195.6 L596.7 191.2 L596.9 185.8 L597.2 194.1 L597.4 190.7 L597.7 188.3 L597.9 184.5 L598.1 181.2 L598.4 192.5 L598.6 191.8 L598.9 191.5 L599.1 187.7 L599.4 190.5 L599.6 191.5 L599.9 182.8 L600.1 191.6 L600.3 182.4 L600.6 184.4 L600.8 193.8 L601.1 191.5 L601.3 190 L601.6 186.3 L601.8 198.5 L602.1 183.3 L602.3 188.2 L602.5 187.9 L602.8 198.6 L603 189.2 L603.3 200.3 L603.5 193 L603.8 195.6 L604 196.8 L604.2 196.4 L604.5 177.9 L604.7 192.2 L605 202 L605.2 192.3 L605.5 198 L605.7 194.8 L606 195.4 L606.2 199 L606.4 195.2 L606.7 199.2 L606.9 194.8 L607.2 204.3 L607.4 202.2 L607.7 201.6 L607.9 204.8 L608.2 204.8 L608.4 203.3 L608.6 203.6 L608.9 202.2 L609.1 203.6 L609.4 201.2 L609.6 203.5 L609.9 199.6 L610.1 202.4 L610.4 206.4 L610.6 206.2 L610.8 204.9 L611.1 207.4 L611.3 201.6 L611.6 208.9 L611.8 209.6 L612.1 207.9 L612.3 208.1 L612.6 209.3 L612.8 210.1 L613 211.3 L613.3 210.3 L613.5 211.3 L613.8 211.6 L614 211.7 L614.3 211.8 L614.5 211.9 L614.8 211.7 L615 212.8 L615.2 212 L615.5 212.2 L615.7 212.1 L616 211.2 L616.2 212.2 L616.5 212.9 L616.7 212.3 L617 212.4 L617.2 212.7 L617.4 212.3 L617.7 212.2 L617.9 212.8 L618.2 212.8 L618.4 212.4 L618.7 212.3 L618.9 212.3 L619.2 212 L619.4 212.7 L619.6 212.9 L619.9 212.8 L620.1 212.8 L620.4 212.5 L620.6 212.6 L620.9 212.5 L621.1 212.6 L621.4 212.7 L621.6 212.6 L621.8 212.7 L622.1 212.9 L622.3 212.6 L622.6 213 L622.8 212.9 L623.1 212.7 L623.3 213 L623.6 212.6 L623.8 212.7 L624 212.9 L624.3 212.6 L624.5 212.8 L624.8 212.5 L625 212.6 L625.3 212.6 L625.5 213 L625.8 212.5 L626 212.2" fill="none" stroke="#ff10f0" stroke-width="0.8" stroke-linejoin="miter" stroke-miterlimit="2"/>
<path d="M536.8 213.2 H626" stroke="#ff30f0" stroke-width="1.2"/>
</g>
<path d="M536.8 145.3 H626 V213.7 H536.8 Z" fill="none" stroke="#2e2e2e" stroke-width="1.1"/>
<path d="M561.2 213.7 v-2 M561.2 145.3 v2 M585.7 213.7 v-2 M585.7 145.3 v2 M610.1 213.7 v-2 M610.1 145.3 v2 M536.8 200 h2 M626 200 h-2 M536.8 186.3 h2 M626 186.3 h-2 M536.8 172.7 h2 M626 172.7 h-2 M536.8 159 h2 M626 159 h-2" stroke="#2e2e2e" stroke-width="0.7" fill="none"/>
<text x="536.8" y="220.9" font-family='"Liberation Sans", sans-serif' font-size="6.8" text-anchor="middle" fill="#222">0</text>
<text x="561.2" y="220.9" font-family='"Liberation Sans", sans-serif' font-size="6.8" text-anchor="middle" fill="#222">100</text>
<text x="585.7" y="220.9" font-family='"Liberation Sans", sans-serif' font-size="6.8" text-anchor="middle" fill="#222">200</text>
<text x="610.1" y="220.9" font-family='"Liberation Sans", sans-serif' font-size="6.8" text-anchor="middle" fill="#222">300</text>
<text x="536" y="216.1" font-family='"Liberation Sans", sans-serif' font-size="6.5" text-anchor="end" fill="#222">0</text>
<text x="536" y="202.4" font-family='"Liberation Sans", sans-serif' font-size="6.5" text-anchor="end" fill="#222">5</text>
<text x="536" y="188.7" font-family='"Liberation Sans", sans-serif' font-size="6.5" text-anchor="end" fill="#222">10</text>
<text x="536" y="175.1" font-family='"Liberation Sans", sans-serif' font-size="6.5" text-anchor="end" fill="#222">15</text>
<text x="536" y="161.4" font-family='"Liberation Sans", sans-serif' font-size="6.5" text-anchor="end" fill="#222">20</text>
<text x="536" y="147.7" font-family='"Liberation Sans", sans-serif' font-size="6.5" text-anchor="end" fill="#222">25</text>
<text x="581.4" y="226.7" font-family='"Liberation Sans", sans-serif' font-size="6.8" text-anchor="middle" fill="#222">Calendar Day</text>
<text transform="translate(526.2 178.7) rotate(-90)" font-family='"Liberation Sans", sans-serif' font-size="6.7" text-anchor="middle" fill="#222">Model Precip (mm/day)</text>
<text x="539.1" y="162.1" font-family='"Liberation Sans", sans-serif' font-size="6.4" font-weight="bold" fill="#2222ff">Raw</text>
<text x="539.1" y="170.1" font-family='"Liberation Sans", sans-serif' font-size="6.4" font-weight="bold" fill="#ff20f0">Downscaled</text>
<g stroke="#2e2e2e" stroke-width="1.5" fill="none">
<path d="M360 16.5 H627.5 V229 H360 Z"/>
</g>
<path d="M360.3 228.7 L384 228.7" fill="none" stroke="#d8d820" stroke-width="2.0" stroke-linejoin="round" stroke-linecap="round" />
<path d="M360 229 v-2.6 M360 16.5 v2.6 M449.2 229 v-2.6 M449.2 16.5 v2.6 M538.3 229 v-2.6 M538.3 16.5 v2.6 M627.5 229 v-2.6 M627.5 16.5 v2.6 M360 229 h2.6 M627.5 229 h-2.6 M360 158.2 h2.6 M627.5 158.2 h-2.6 M360 87.3 h2.6 M627.5 87.3 h-2.6 M360 16.5 h2.6 M627.5 16.5 h-2.6" stroke="#2e2e2e" stroke-width="0.9" fill="none"/>
<text transform="translate(360 241.4) scale(1 1.07)" font-family='"Liberation Sans", sans-serif' font-size="9.6" text-anchor="middle" fill="#111" stroke="#111" stroke-width="0.28">0</text>
<text transform="translate(449.2 241.4) scale(1 1.07)" font-family='"Liberation Sans", sans-serif' font-size="9.6" text-anchor="middle" fill="#111" stroke="#111" stroke-width="0.28">50</text>
<text transform="translate(538.3 241.4) scale(1 1.07)" font-family='"Liberation Sans", sans-serif' font-size="9.6" text-anchor="middle" fill="#111" stroke="#111" stroke-width="0.28">100</text>
<text transform="translate(627.5 241.4) scale(1 1.07)" font-family='"Liberation Sans", sans-serif' font-size="9.6" text-anchor="middle" fill="#111" stroke="#111" stroke-width="0.28">150</text>
<text transform="translate(355.9 233.3) scale(1 1.07)" font-family='"Liberation Sans", sans-serif' font-size="9.6" text-anchor="end" fill="#111" stroke="#111" stroke-width="0.28">0</text>
<text transform="translate(355.9 162.5) scale(1 1.07)" font-family='"Liberation Sans", sans-serif' font-size="9.6" text-anchor="end" fill="#111" stroke="#111" stroke-width="0.28">50</text>
<text transform="translate(355.9 91.6) scale(1 1.07)" font-family='"Liberation Sans", sans-serif' font-size="9.6" text-anchor="end" fill="#111" stroke="#111" stroke-width="0.28">100</text>
<text transform="translate(355.9 20.8) scale(1 1.07)" font-family='"Liberation Sans", sans-serif' font-size="9.6" text-anchor="end" fill="#111" stroke="#111" stroke-width="0.28">150</text>
<text transform="translate(493.8 256.8) scale(1 1.07)" font-family='"Liberation Sans", sans-serif' font-size="9.6" text-anchor="middle" fill="#111" stroke="#111" stroke-width="0.28">Model Precipitation (mm/day)</text>
<text transform="translate(333.9 122.8) rotate(-90) scale(1 1.07)" font-family='"Liberation Sans", sans-serif' font-size="9.6" text-anchor="middle" fill="#111" stroke="#111" stroke-width="0.28">Station Precipitation (mm/day)</text>
<text x="493.8" y="9.2" font-family='"Liberation Serif", serif' font-size="11" font-weight="bold" text-anchor="middle" fill="#000">CSIRO–Mk3–6–0</text>
<text x="374.6" y="27.5" font-family='"Liberation Serif", serif' font-size="9.7" font-weight="bold" fill="#1a1aff">May</text>
<text x="374.6" y="37.3" font-family='"Liberation Serif", serif' font-size="9.7" font-weight="bold" fill="#1e8a1e">June</text>
<text x="374.6" y="47.2" font-family='"Liberation Serif", serif' font-size="9.7" font-weight="bold" fill="#ff1a1a">July</text>
<text x="374.6" y="57" font-family='"Liberation Serif", serif' font-size="9.7" font-weight="bold" fill="#19c4c4">August</text>
<text x="374.6" y="66.9" font-family='"Liberation Serif", serif' font-size="9.7" font-weight="bold" fill="#d21ee6">September</text>
<text x="374.6" y="76.7" font-family='"Liberation Serif", serif' font-size="9.7" font-weight="bold" fill="#cdcd28">October</text>
</svg></body></html>
